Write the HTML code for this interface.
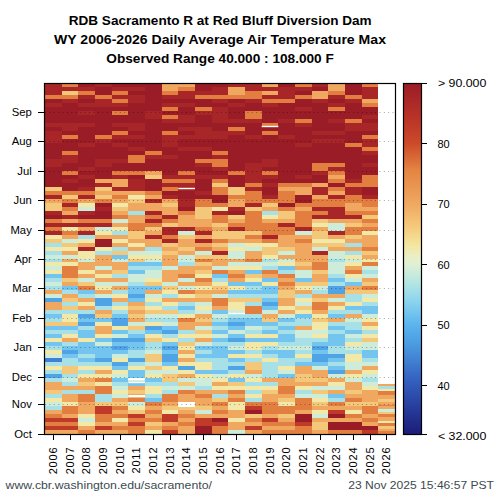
<!DOCTYPE html>
<html><head><meta charset="utf-8"><style>
html,body{margin:0;padding:0;background:#fff;}
body{width:500px;height:500px;overflow:hidden;position:relative;}
svg{position:absolute;left:0;top:0;}
text{font-family:"Liberation Sans",sans-serif;}
.ttl{font-size:13px;font-weight:bold;fill:#000;}
.tk,.yr,.cb{font-size:10px;fill:#000;}
.ft{font-size:11px;fill:#3c4a50;}
</style></head><body>
<svg width="500" height="500" viewBox="0 0 500 500" shape-rendering="crispEdges">
<rect x="45.00" y="83.00" width="16.67" height="11.97" fill="#a82627"/>
<rect x="45.00" y="94.97" width="16.67" height="3.99" fill="#e27f40"/>
<rect x="45.00" y="98.95" width="16.67" height="3.99" fill="#9a1c26"/>
<rect x="45.00" y="102.94" width="16.67" height="3.99" fill="#a82627"/>
<rect x="45.00" y="106.93" width="16.67" height="15.95" fill="#9a1c26"/>
<rect x="45.00" y="122.89" width="16.67" height="3.99" fill="#a82627"/>
<rect x="45.00" y="126.88" width="16.67" height="3.99" fill="#9a1c26"/>
<rect x="45.00" y="130.86" width="16.67" height="11.97" fill="#a82627"/>
<rect x="45.00" y="142.83" width="16.67" height="15.95" fill="#9a1c26"/>
<rect x="45.00" y="158.78" width="16.67" height="7.98" fill="#a82627"/>
<rect x="45.00" y="166.76" width="16.67" height="19.94" fill="#9a1c26"/>
<rect x="45.00" y="186.70" width="16.67" height="3.99" fill="#f4c87a"/>
<rect x="45.00" y="190.69" width="16.67" height="3.99" fill="#e27f40"/>
<rect x="45.00" y="194.68" width="16.67" height="3.99" fill="#a82627"/>
<rect x="45.00" y="198.67" width="16.67" height="3.99" fill="#f0a860"/>
<rect x="45.00" y="202.66" width="16.67" height="7.98" fill="#f4c87a"/>
<rect x="45.00" y="210.64" width="16.67" height="3.99" fill="#a82627"/>
<rect x="45.00" y="214.62" width="16.67" height="3.99" fill="#9a1c26"/>
<rect x="45.00" y="218.61" width="16.67" height="3.99" fill="#e27f40"/>
<rect x="45.00" y="222.60" width="16.67" height="3.99" fill="#a82627"/>
<rect x="45.00" y="226.59" width="16.67" height="3.99" fill="#e27f40"/>
<rect x="45.00" y="230.58" width="16.67" height="3.99" fill="#a82627"/>
<rect x="45.00" y="234.57" width="16.67" height="3.99" fill="#f2e8a8"/>
<rect x="45.00" y="238.56" width="16.67" height="3.99" fill="#f4c87a"/>
<rect x="45.00" y="242.55" width="16.67" height="3.99" fill="#a7e0e6"/>
<rect x="45.00" y="246.53" width="16.67" height="3.99" fill="#f2e8a8"/>
<rect x="45.00" y="250.52" width="16.67" height="3.99" fill="#a7e0e6"/>
<rect x="45.00" y="254.51" width="16.67" height="3.99" fill="#ceecda"/>
<rect x="45.00" y="258.50" width="16.67" height="3.99" fill="#a7e0e6"/>
<rect x="45.00" y="262.49" width="16.67" height="3.99" fill="#f2e8a8"/>
<rect x="45.00" y="266.48" width="16.67" height="3.99" fill="#ceecda"/>
<rect x="45.00" y="270.47" width="16.67" height="3.99" fill="#f2e8a8"/>
<rect x="45.00" y="274.45" width="16.67" height="3.99" fill="#73c4ee"/>
<rect x="45.00" y="278.44" width="16.67" height="3.99" fill="#a7e0e6"/>
<rect x="45.00" y="282.43" width="16.67" height="3.99" fill="#ceecda"/>
<rect x="45.00" y="286.42" width="16.67" height="3.99" fill="#a7e0e6"/>
<rect x="45.00" y="290.41" width="16.67" height="3.99" fill="#f0a860"/>
<rect x="45.00" y="294.40" width="16.67" height="3.99" fill="#ceecda"/>
<rect x="45.00" y="298.39" width="16.67" height="3.99" fill="#50a4e6"/>
<rect x="45.00" y="302.38" width="16.67" height="7.98" fill="#f0a860"/>
<rect x="45.00" y="310.35" width="16.67" height="3.99" fill="#a7e0e6"/>
<rect x="45.00" y="314.34" width="16.67" height="3.99" fill="#73c4ee"/>
<rect x="45.00" y="318.33" width="16.67" height="3.99" fill="#a7e0e6"/>
<rect x="45.00" y="322.32" width="16.67" height="3.99" fill="#f4c87a"/>
<rect x="45.00" y="326.31" width="16.67" height="3.99" fill="#73c4ee"/>
<rect x="45.00" y="330.30" width="16.67" height="3.99" fill="#a7e0e6"/>
<rect x="45.00" y="334.28" width="16.67" height="3.99" fill="#73c4ee"/>
<rect x="45.00" y="338.27" width="16.67" height="3.99" fill="#f2e8a8"/>
<rect x="45.00" y="342.26" width="16.67" height="3.99" fill="#73c4ee"/>
<rect x="45.00" y="346.25" width="16.67" height="3.99" fill="#a7e0e6"/>
<rect x="45.00" y="350.24" width="16.67" height="3.99" fill="#f2e8a8"/>
<rect x="45.00" y="354.23" width="16.67" height="3.99" fill="#ceecda"/>
<rect x="45.00" y="358.22" width="16.67" height="3.99" fill="#407fd1"/>
<rect x="45.00" y="362.20" width="16.67" height="3.99" fill="#a7e0e6"/>
<rect x="45.00" y="366.19" width="16.67" height="3.99" fill="#f2e8a8"/>
<rect x="45.00" y="370.18" width="16.67" height="3.99" fill="#a7e0e6"/>
<rect x="45.00" y="374.17" width="16.67" height="3.99" fill="#50a4e6"/>
<rect x="45.00" y="378.16" width="16.67" height="3.99" fill="#a7e0e6"/>
<rect x="45.00" y="382.15" width="16.67" height="7.98" fill="#f0a860"/>
<rect x="45.00" y="390.12" width="16.67" height="3.99" fill="#f4c87a"/>
<rect x="45.00" y="394.11" width="16.67" height="3.99" fill="#a7e0e6"/>
<rect x="45.00" y="398.10" width="16.67" height="3.99" fill="#f2e8a8"/>
<rect x="45.00" y="402.09" width="16.67" height="3.99" fill="#ceecda"/>
<rect x="45.00" y="406.08" width="16.67" height="3.99" fill="#a7e0e6"/>
<rect x="45.00" y="410.07" width="16.67" height="3.99" fill="#f0a860"/>
<rect x="45.00" y="414.06" width="16.67" height="3.99" fill="#e27f40"/>
<rect x="45.00" y="418.05" width="16.67" height="3.99" fill="#bf3a29"/>
<rect x="45.00" y="422.03" width="16.67" height="3.99" fill="#e27f40"/>
<rect x="45.00" y="426.02" width="16.67" height="3.99" fill="#bf3a29"/>
<rect x="45.00" y="430.01" width="16.67" height="3.99" fill="#f0a860"/>
<rect x="61.67" y="83.00" width="16.67" height="3.99" fill="#e27f40"/>
<rect x="61.67" y="86.99" width="16.67" height="3.99" fill="#a82627"/>
<rect x="61.67" y="90.98" width="16.67" height="3.99" fill="#f4c87a"/>
<rect x="61.67" y="94.97" width="16.67" height="3.99" fill="#e27f40"/>
<rect x="61.67" y="98.95" width="16.67" height="3.99" fill="#a82627"/>
<rect x="61.67" y="102.94" width="16.67" height="19.94" fill="#9a1c26"/>
<rect x="61.67" y="122.89" width="16.67" height="7.98" fill="#a82627"/>
<rect x="61.67" y="130.86" width="16.67" height="3.99" fill="#9a1c26"/>
<rect x="61.67" y="134.85" width="16.67" height="3.99" fill="#e27f40"/>
<rect x="61.67" y="138.84" width="16.67" height="11.97" fill="#9a1c26"/>
<rect x="61.67" y="150.81" width="16.67" height="3.99" fill="#e27f40"/>
<rect x="61.67" y="154.80" width="16.67" height="7.98" fill="#a82627"/>
<rect x="61.67" y="162.77" width="16.67" height="7.98" fill="#9a1c26"/>
<rect x="61.67" y="170.75" width="16.67" height="3.99" fill="#e27f40"/>
<rect x="61.67" y="174.74" width="16.67" height="3.99" fill="#9a1c26"/>
<rect x="61.67" y="178.73" width="16.67" height="3.99" fill="#a82627"/>
<rect x="61.67" y="182.72" width="16.67" height="7.98" fill="#9a1c26"/>
<rect x="61.67" y="190.69" width="16.67" height="3.99" fill="#e27f40"/>
<rect x="61.67" y="194.68" width="16.67" height="3.99" fill="#f4c87a"/>
<rect x="61.67" y="198.67" width="16.67" height="3.99" fill="#e27f40"/>
<rect x="61.67" y="202.66" width="16.67" height="3.99" fill="#a82627"/>
<rect x="61.67" y="206.65" width="16.67" height="3.99" fill="#e27f40"/>
<rect x="61.67" y="210.64" width="16.67" height="3.99" fill="#f0a860"/>
<rect x="61.67" y="214.62" width="16.67" height="3.99" fill="#a82627"/>
<rect x="61.67" y="218.61" width="16.67" height="3.99" fill="#f0a860"/>
<rect x="61.67" y="222.60" width="16.67" height="3.99" fill="#a82627"/>
<rect x="61.67" y="226.59" width="16.67" height="3.99" fill="#f2e8a8"/>
<rect x="61.67" y="230.58" width="16.67" height="3.99" fill="#e27f40"/>
<rect x="61.67" y="234.57" width="16.67" height="3.99" fill="#f0a860"/>
<rect x="61.67" y="238.56" width="16.67" height="3.99" fill="#ceecda"/>
<rect x="61.67" y="242.55" width="16.67" height="3.99" fill="#f4c87a"/>
<rect x="61.67" y="246.53" width="16.67" height="3.99" fill="#f2e8a8"/>
<rect x="61.67" y="250.52" width="16.67" height="3.99" fill="#f0a860"/>
<rect x="61.67" y="254.51" width="16.67" height="3.99" fill="#ceecda"/>
<rect x="61.67" y="258.50" width="16.67" height="3.99" fill="#f0a860"/>
<rect x="61.67" y="262.49" width="16.67" height="3.99" fill="#f2e8a8"/>
<rect x="61.67" y="266.48" width="16.67" height="11.97" fill="#e27f40"/>
<rect x="61.67" y="278.44" width="16.67" height="3.99" fill="#f4c87a"/>
<rect x="61.67" y="282.43" width="16.67" height="3.99" fill="#f0a860"/>
<rect x="61.67" y="286.42" width="16.67" height="3.99" fill="#73c4ee"/>
<rect x="61.67" y="290.41" width="16.67" height="3.99" fill="#a7e0e6"/>
<rect x="61.67" y="294.40" width="16.67" height="3.99" fill="#f0a860"/>
<rect x="61.67" y="298.39" width="16.67" height="3.99" fill="#f4c87a"/>
<rect x="61.67" y="302.38" width="16.67" height="3.99" fill="#a7e0e6"/>
<rect x="61.67" y="306.36" width="16.67" height="3.99" fill="#f4c87a"/>
<rect x="61.67" y="310.35" width="16.67" height="3.99" fill="#a7e0e6"/>
<rect x="61.67" y="314.34" width="16.67" height="7.98" fill="#f2e8a8"/>
<rect x="61.67" y="322.32" width="16.67" height="3.99" fill="#f4c87a"/>
<rect x="61.67" y="326.31" width="16.67" height="3.99" fill="#73c4ee"/>
<rect x="61.67" y="330.30" width="16.67" height="3.99" fill="#a7e0e6"/>
<rect x="61.67" y="334.28" width="16.67" height="3.99" fill="#f2e8a8"/>
<rect x="61.67" y="338.27" width="16.67" height="3.99" fill="#f0a860"/>
<rect x="61.67" y="342.26" width="16.67" height="3.99" fill="#a7e0e6"/>
<rect x="61.67" y="346.25" width="16.67" height="3.99" fill="#73c4ee"/>
<rect x="61.67" y="350.24" width="16.67" height="3.99" fill="#50a4e6"/>
<rect x="61.67" y="354.23" width="16.67" height="3.99" fill="#73c4ee"/>
<rect x="61.67" y="358.22" width="16.67" height="7.98" fill="#a7e0e6"/>
<rect x="61.67" y="366.19" width="16.67" height="7.98" fill="#f4c87a"/>
<rect x="61.67" y="374.17" width="16.67" height="3.99" fill="#a7e0e6"/>
<rect x="61.67" y="378.16" width="16.67" height="3.99" fill="#ceecda"/>
<rect x="61.67" y="382.15" width="16.67" height="3.99" fill="#a7e0e6"/>
<rect x="61.67" y="386.14" width="16.67" height="3.99" fill="#f0a860"/>
<rect x="61.67" y="390.12" width="16.67" height="3.99" fill="#a7e0e6"/>
<rect x="61.67" y="394.11" width="16.67" height="7.98" fill="#f0a860"/>
<rect x="61.67" y="402.09" width="16.67" height="3.99" fill="#f2e8a8"/>
<rect x="61.67" y="406.08" width="16.67" height="7.98" fill="#e27f40"/>
<rect x="61.67" y="414.06" width="16.67" height="3.99" fill="#f0a860"/>
<rect x="61.67" y="418.05" width="16.67" height="3.99" fill="#bf3a29"/>
<rect x="61.67" y="422.03" width="16.67" height="3.99" fill="#e27f40"/>
<rect x="61.67" y="426.02" width="16.67" height="3.99" fill="#bf3a29"/>
<rect x="61.67" y="430.01" width="16.67" height="3.99" fill="#f0a860"/>
<rect x="78.33" y="83.00" width="16.67" height="3.99" fill="#9a1c26"/>
<rect x="78.33" y="86.99" width="16.67" height="3.99" fill="#a82627"/>
<rect x="78.33" y="90.98" width="16.67" height="3.99" fill="#e27f40"/>
<rect x="78.33" y="94.97" width="16.67" height="3.99" fill="#a82627"/>
<rect x="78.33" y="98.95" width="16.67" height="3.99" fill="#9a1c26"/>
<rect x="78.33" y="102.94" width="16.67" height="3.99" fill="#a82627"/>
<rect x="78.33" y="106.93" width="16.67" height="3.99" fill="#9a1c26"/>
<rect x="78.33" y="110.92" width="16.67" height="3.99" fill="#a82627"/>
<rect x="78.33" y="114.91" width="16.67" height="7.98" fill="#9a1c26"/>
<rect x="78.33" y="122.89" width="16.67" height="3.99" fill="#a82627"/>
<rect x="78.33" y="126.88" width="16.67" height="15.95" fill="#9a1c26"/>
<rect x="78.33" y="142.83" width="16.67" height="3.99" fill="#a82627"/>
<rect x="78.33" y="146.82" width="16.67" height="19.94" fill="#9a1c26"/>
<rect x="78.33" y="166.76" width="16.67" height="3.99" fill="#a82627"/>
<rect x="78.33" y="170.75" width="16.67" height="3.99" fill="#9a1c26"/>
<rect x="78.33" y="174.74" width="16.67" height="3.99" fill="#a82627"/>
<rect x="78.33" y="178.73" width="16.67" height="7.98" fill="#9a1c26"/>
<rect x="78.33" y="186.70" width="16.67" height="3.99" fill="#a82627"/>
<rect x="78.33" y="190.69" width="16.67" height="3.99" fill="#e27f40"/>
<rect x="78.33" y="194.68" width="16.67" height="3.99" fill="#a82627"/>
<rect x="78.33" y="198.67" width="16.67" height="3.99" fill="#f0a860"/>
<rect x="78.33" y="202.66" width="16.67" height="3.99" fill="#f2e8a8"/>
<rect x="78.33" y="206.65" width="16.67" height="3.99" fill="#ceecda"/>
<rect x="78.33" y="210.64" width="16.67" height="3.99" fill="#a82627"/>
<rect x="78.33" y="214.62" width="16.67" height="3.99" fill="#9a1c26"/>
<rect x="78.33" y="218.61" width="16.67" height="3.99" fill="#e27f40"/>
<rect x="78.33" y="222.60" width="16.67" height="3.99" fill="#a82627"/>
<rect x="78.33" y="226.59" width="16.67" height="3.99" fill="#f0a860"/>
<rect x="78.33" y="230.58" width="16.67" height="3.99" fill="#a82627"/>
<rect x="78.33" y="234.57" width="16.67" height="3.99" fill="#a7e0e6"/>
<rect x="78.33" y="238.56" width="16.67" height="3.99" fill="#f2e8a8"/>
<rect x="78.33" y="242.55" width="16.67" height="3.99" fill="#f0a860"/>
<rect x="78.33" y="246.53" width="16.67" height="3.99" fill="#a82627"/>
<rect x="78.33" y="250.52" width="16.67" height="7.98" fill="#f2e8a8"/>
<rect x="78.33" y="258.50" width="16.67" height="3.99" fill="#ceecda"/>
<rect x="78.33" y="262.49" width="16.67" height="7.98" fill="#f0a860"/>
<rect x="78.33" y="270.47" width="16.67" height="3.99" fill="#f2e8a8"/>
<rect x="78.33" y="274.45" width="16.67" height="3.99" fill="#f0a860"/>
<rect x="78.33" y="278.44" width="16.67" height="3.99" fill="#ceecda"/>
<rect x="78.33" y="282.43" width="16.67" height="3.99" fill="#f4c87a"/>
<rect x="78.33" y="286.42" width="16.67" height="3.99" fill="#e27f40"/>
<rect x="78.33" y="290.41" width="16.67" height="3.99" fill="#73c4ee"/>
<rect x="78.33" y="294.40" width="16.67" height="3.99" fill="#a7e0e6"/>
<rect x="78.33" y="298.39" width="16.67" height="3.99" fill="#f0a860"/>
<rect x="78.33" y="302.38" width="16.67" height="3.99" fill="#f2e8a8"/>
<rect x="78.33" y="306.36" width="16.67" height="3.99" fill="#f0a860"/>
<rect x="78.33" y="310.35" width="16.67" height="3.99" fill="#a7e0e6"/>
<rect x="78.33" y="314.34" width="16.67" height="3.99" fill="#50a4e6"/>
<rect x="78.33" y="318.33" width="16.67" height="3.99" fill="#73c4ee"/>
<rect x="78.33" y="322.32" width="16.67" height="3.99" fill="#50a4e6"/>
<rect x="78.33" y="326.31" width="16.67" height="3.99" fill="#a7e0e6"/>
<rect x="78.33" y="330.30" width="16.67" height="7.98" fill="#73c4ee"/>
<rect x="78.33" y="338.27" width="16.67" height="3.99" fill="#f2e8a8"/>
<rect x="78.33" y="342.26" width="16.67" height="11.97" fill="#73c4ee"/>
<rect x="78.33" y="354.23" width="16.67" height="3.99" fill="#a7e0e6"/>
<rect x="78.33" y="358.22" width="16.67" height="3.99" fill="#73c4ee"/>
<rect x="78.33" y="362.20" width="16.67" height="3.99" fill="#a7e0e6"/>
<rect x="78.33" y="366.19" width="16.67" height="3.99" fill="#f2e8a8"/>
<rect x="78.33" y="370.18" width="16.67" height="3.99" fill="#a7e0e6"/>
<rect x="78.33" y="374.17" width="16.67" height="3.99" fill="#f2e8a8"/>
<rect x="78.33" y="378.16" width="16.67" height="3.99" fill="#f0a860"/>
<rect x="78.33" y="382.15" width="16.67" height="3.99" fill="#f4c87a"/>
<rect x="78.33" y="386.14" width="16.67" height="3.99" fill="#f0a860"/>
<rect x="78.33" y="390.12" width="16.67" height="3.99" fill="#a7e0e6"/>
<rect x="78.33" y="394.11" width="16.67" height="7.98" fill="#e27f40"/>
<rect x="78.33" y="402.09" width="16.67" height="11.97" fill="#f0a860"/>
<rect x="78.33" y="414.06" width="16.67" height="3.99" fill="#f2e8a8"/>
<rect x="78.33" y="418.05" width="16.67" height="3.99" fill="#ceecda"/>
<rect x="78.33" y="422.03" width="16.67" height="3.99" fill="#f2e8a8"/>
<rect x="78.33" y="426.02" width="16.67" height="3.99" fill="#f0a860"/>
<rect x="78.33" y="430.01" width="16.67" height="3.99" fill="#e27f40"/>
<rect x="95.00" y="83.00" width="16.67" height="3.99" fill="#a82627"/>
<rect x="95.00" y="86.99" width="16.67" height="7.98" fill="#9a1c26"/>
<rect x="95.00" y="94.97" width="16.67" height="3.99" fill="#e27f40"/>
<rect x="95.00" y="98.95" width="16.67" height="7.98" fill="#a82627"/>
<rect x="95.00" y="106.93" width="16.67" height="27.92" fill="#9a1c26"/>
<rect x="95.00" y="134.85" width="16.67" height="3.99" fill="#e27f40"/>
<rect x="95.00" y="138.84" width="16.67" height="3.99" fill="#a82627"/>
<rect x="95.00" y="142.83" width="16.67" height="15.95" fill="#9a1c26"/>
<rect x="95.00" y="158.78" width="16.67" height="7.98" fill="#a82627"/>
<rect x="95.00" y="166.76" width="16.67" height="11.97" fill="#9a1c26"/>
<rect x="95.00" y="178.73" width="16.67" height="3.99" fill="#f0a860"/>
<rect x="95.00" y="182.72" width="16.67" height="3.99" fill="#a82627"/>
<rect x="95.00" y="186.70" width="16.67" height="3.99" fill="#f4c87a"/>
<rect x="95.00" y="190.69" width="16.67" height="3.99" fill="#f0a860"/>
<rect x="95.00" y="194.68" width="16.67" height="3.99" fill="#f4c87a"/>
<rect x="95.00" y="198.67" width="16.67" height="3.99" fill="#e27f40"/>
<rect x="95.00" y="202.66" width="16.67" height="3.99" fill="#9a1c26"/>
<rect x="95.00" y="206.65" width="16.67" height="3.99" fill="#a82627"/>
<rect x="95.00" y="210.64" width="16.67" height="7.98" fill="#9a1c26"/>
<rect x="95.00" y="218.61" width="16.67" height="3.99" fill="#e27f40"/>
<rect x="95.00" y="222.60" width="16.67" height="3.99" fill="#a82627"/>
<rect x="95.00" y="226.59" width="16.67" height="3.99" fill="#ceecda"/>
<rect x="95.00" y="230.58" width="16.67" height="3.99" fill="#f2e8a8"/>
<rect x="95.00" y="234.57" width="16.67" height="3.99" fill="#f0a860"/>
<rect x="95.00" y="238.56" width="16.67" height="7.98" fill="#9a1c26"/>
<rect x="95.00" y="246.53" width="16.67" height="3.99" fill="#f2e8a8"/>
<rect x="95.00" y="250.52" width="16.67" height="3.99" fill="#a7e0e6"/>
<rect x="95.00" y="254.51" width="16.67" height="11.97" fill="#f0a860"/>
<rect x="95.00" y="266.48" width="16.67" height="3.99" fill="#ceecda"/>
<rect x="95.00" y="270.47" width="16.67" height="3.99" fill="#f0a860"/>
<rect x="95.00" y="274.45" width="16.67" height="3.99" fill="#f2e8a8"/>
<rect x="95.00" y="278.44" width="16.67" height="3.99" fill="#f0a860"/>
<rect x="95.00" y="282.43" width="16.67" height="3.99" fill="#ceecda"/>
<rect x="95.00" y="286.42" width="16.67" height="3.99" fill="#f2e8a8"/>
<rect x="95.00" y="290.41" width="16.67" height="3.99" fill="#f0a860"/>
<rect x="95.00" y="294.40" width="16.67" height="3.99" fill="#ceecda"/>
<rect x="95.00" y="298.39" width="16.67" height="7.98" fill="#50a4e6"/>
<rect x="95.00" y="306.36" width="16.67" height="3.99" fill="#a7e0e6"/>
<rect x="95.00" y="310.35" width="16.67" height="3.99" fill="#f0a860"/>
<rect x="95.00" y="314.34" width="16.67" height="3.99" fill="#f4c87a"/>
<rect x="95.00" y="318.33" width="16.67" height="3.99" fill="#73c4ee"/>
<rect x="95.00" y="322.32" width="16.67" height="3.99" fill="#f2e8a8"/>
<rect x="95.00" y="326.31" width="16.67" height="7.98" fill="#f0a860"/>
<rect x="95.00" y="334.28" width="16.67" height="3.99" fill="#f2e8a8"/>
<rect x="95.00" y="338.27" width="16.67" height="3.99" fill="#73c4ee"/>
<rect x="95.00" y="342.26" width="16.67" height="3.99" fill="#ceecda"/>
<rect x="95.00" y="346.25" width="16.67" height="11.97" fill="#73c4ee"/>
<rect x="95.00" y="358.22" width="16.67" height="3.99" fill="#50a4e6"/>
<rect x="95.00" y="362.20" width="16.67" height="3.99" fill="#a7e0e6"/>
<rect x="95.00" y="366.19" width="16.67" height="3.99" fill="#f2e8a8"/>
<rect x="95.00" y="370.18" width="16.67" height="3.99" fill="#f0a860"/>
<rect x="95.00" y="374.17" width="16.67" height="3.99" fill="#f2e8a8"/>
<rect x="95.00" y="378.16" width="16.67" height="3.99" fill="#e27f40"/>
<rect x="95.00" y="382.15" width="16.67" height="3.99" fill="#f2e8a8"/>
<rect x="95.00" y="386.14" width="16.67" height="7.98" fill="#e27f40"/>
<rect x="95.00" y="394.11" width="16.67" height="7.98" fill="#a7e0e6"/>
<rect x="95.00" y="402.09" width="16.67" height="3.99" fill="#f4c87a"/>
<rect x="95.00" y="406.08" width="16.67" height="7.98" fill="#bf3a29"/>
<rect x="95.00" y="414.06" width="16.67" height="7.98" fill="#e27f40"/>
<rect x="95.00" y="422.03" width="16.67" height="3.99" fill="#f0a860"/>
<rect x="95.00" y="426.02" width="16.67" height="3.99" fill="#bf3a29"/>
<rect x="95.00" y="430.01" width="16.67" height="3.99" fill="#f0a860"/>
<rect x="111.67" y="83.00" width="16.67" height="3.99" fill="#9a1c26"/>
<rect x="111.67" y="86.99" width="16.67" height="3.99" fill="#a82627"/>
<rect x="111.67" y="90.98" width="16.67" height="3.99" fill="#e27f40"/>
<rect x="111.67" y="94.97" width="16.67" height="3.99" fill="#a82627"/>
<rect x="111.67" y="98.95" width="16.67" height="3.99" fill="#e27f40"/>
<rect x="111.67" y="102.94" width="16.67" height="3.99" fill="#a82627"/>
<rect x="111.67" y="106.93" width="16.67" height="3.99" fill="#9a1c26"/>
<rect x="111.67" y="110.92" width="16.67" height="3.99" fill="#e27f40"/>
<rect x="111.67" y="114.91" width="16.67" height="7.98" fill="#9a1c26"/>
<rect x="111.67" y="122.89" width="16.67" height="3.99" fill="#a82627"/>
<rect x="111.67" y="126.88" width="16.67" height="3.99" fill="#9a1c26"/>
<rect x="111.67" y="130.86" width="16.67" height="3.99" fill="#e27f40"/>
<rect x="111.67" y="134.85" width="16.67" height="3.99" fill="#a82627"/>
<rect x="111.67" y="138.84" width="16.67" height="3.99" fill="#9a1c26"/>
<rect x="111.67" y="142.83" width="16.67" height="3.99" fill="#a82627"/>
<rect x="111.67" y="146.82" width="16.67" height="11.97" fill="#9a1c26"/>
<rect x="111.67" y="158.78" width="16.67" height="3.99" fill="#a82627"/>
<rect x="111.67" y="162.77" width="16.67" height="7.98" fill="#9a1c26"/>
<rect x="111.67" y="170.75" width="16.67" height="3.99" fill="#e27f40"/>
<rect x="111.67" y="174.74" width="16.67" height="3.99" fill="#a82627"/>
<rect x="111.67" y="178.73" width="16.67" height="7.98" fill="#f0a860"/>
<rect x="111.67" y="186.70" width="16.67" height="3.99" fill="#a82627"/>
<rect x="111.67" y="190.69" width="16.67" height="3.99" fill="#f0a860"/>
<rect x="111.67" y="194.68" width="16.67" height="3.99" fill="#e27f40"/>
<rect x="111.67" y="198.67" width="16.67" height="3.99" fill="#f0a860"/>
<rect x="111.67" y="202.66" width="16.67" height="3.99" fill="#f2e8a8"/>
<rect x="111.67" y="206.65" width="16.67" height="3.99" fill="#f4c87a"/>
<rect x="111.67" y="210.64" width="16.67" height="3.99" fill="#f0a860"/>
<rect x="111.67" y="214.62" width="16.67" height="3.99" fill="#e27f40"/>
<rect x="111.67" y="218.61" width="16.67" height="3.99" fill="#ceecda"/>
<rect x="111.67" y="222.60" width="16.67" height="3.99" fill="#f0a860"/>
<rect x="111.67" y="226.59" width="16.67" height="3.99" fill="#f2e8a8"/>
<rect x="111.67" y="230.58" width="16.67" height="3.99" fill="#a7e0e6"/>
<rect x="111.67" y="234.57" width="16.67" height="3.99" fill="#f0a860"/>
<rect x="111.67" y="238.56" width="16.67" height="3.99" fill="#f2e8a8"/>
<rect x="111.67" y="242.55" width="16.67" height="3.99" fill="#f0a860"/>
<rect x="111.67" y="246.53" width="16.67" height="3.99" fill="#a7e0e6"/>
<rect x="111.67" y="250.52" width="16.67" height="3.99" fill="#f4c87a"/>
<rect x="111.67" y="254.51" width="16.67" height="3.99" fill="#73c4ee"/>
<rect x="111.67" y="258.50" width="16.67" height="3.99" fill="#ceecda"/>
<rect x="111.67" y="262.49" width="16.67" height="7.98" fill="#f0a860"/>
<rect x="111.67" y="270.47" width="16.67" height="3.99" fill="#f4c87a"/>
<rect x="111.67" y="274.45" width="16.67" height="3.99" fill="#a7e0e6"/>
<rect x="111.67" y="278.44" width="16.67" height="3.99" fill="#f0a860"/>
<rect x="111.67" y="282.43" width="16.67" height="3.99" fill="#ceecda"/>
<rect x="111.67" y="286.42" width="16.67" height="3.99" fill="#f0a860"/>
<rect x="111.67" y="290.41" width="16.67" height="3.99" fill="#a7e0e6"/>
<rect x="111.67" y="294.40" width="16.67" height="3.99" fill="#f2e8a8"/>
<rect x="111.67" y="298.39" width="16.67" height="3.99" fill="#f0a860"/>
<rect x="111.67" y="302.38" width="16.67" height="3.99" fill="#a7e0e6"/>
<rect x="111.67" y="306.36" width="16.67" height="3.99" fill="#f2e8a8"/>
<rect x="111.67" y="310.35" width="16.67" height="3.99" fill="#a7e0e6"/>
<rect x="111.67" y="314.34" width="16.67" height="3.99" fill="#73c4ee"/>
<rect x="111.67" y="318.33" width="16.67" height="7.98" fill="#50a4e6"/>
<rect x="111.67" y="326.31" width="16.67" height="3.99" fill="#f2e8a8"/>
<rect x="111.67" y="330.30" width="16.67" height="3.99" fill="#73c4ee"/>
<rect x="111.67" y="334.28" width="16.67" height="3.99" fill="#ceecda"/>
<rect x="111.67" y="338.27" width="16.67" height="3.99" fill="#50a4e6"/>
<rect x="111.67" y="342.26" width="16.67" height="3.99" fill="#73c4ee"/>
<rect x="111.67" y="346.25" width="16.67" height="3.99" fill="#50a4e6"/>
<rect x="111.67" y="350.24" width="16.67" height="3.99" fill="#73c4ee"/>
<rect x="111.67" y="354.23" width="16.67" height="3.99" fill="#ceecda"/>
<rect x="111.67" y="358.22" width="16.67" height="3.99" fill="#f2e8a8"/>
<rect x="111.67" y="362.20" width="16.67" height="3.99" fill="#50a4e6"/>
<rect x="111.67" y="366.19" width="16.67" height="3.99" fill="#73c4ee"/>
<rect x="111.67" y="370.18" width="16.67" height="3.99" fill="#f2e8a8"/>
<rect x="111.67" y="374.17" width="16.67" height="3.99" fill="#ceecda"/>
<rect x="111.67" y="378.16" width="16.67" height="3.99" fill="#73c4ee"/>
<rect x="111.67" y="382.15" width="16.67" height="3.99" fill="#a7e0e6"/>
<rect x="111.67" y="386.14" width="16.67" height="3.99" fill="#ceecda"/>
<rect x="111.67" y="390.12" width="16.67" height="3.99" fill="#f2e8a8"/>
<rect x="111.67" y="394.11" width="16.67" height="3.99" fill="#ceecda"/>
<rect x="111.67" y="398.10" width="16.67" height="3.99" fill="#f0a860"/>
<rect x="111.67" y="402.09" width="16.67" height="3.99" fill="#f4c87a"/>
<rect x="111.67" y="406.08" width="16.67" height="3.99" fill="#e27f40"/>
<rect x="111.67" y="410.07" width="16.67" height="3.99" fill="#f0a860"/>
<rect x="111.67" y="414.06" width="16.67" height="3.99" fill="#e27f40"/>
<rect x="111.67" y="418.05" width="16.67" height="3.99" fill="#f2e8a8"/>
<rect x="111.67" y="422.03" width="16.67" height="3.99" fill="#f0a860"/>
<rect x="111.67" y="426.02" width="16.67" height="3.99" fill="#e27f40"/>
<rect x="111.67" y="430.01" width="16.67" height="3.99" fill="#f0a860"/>
<rect x="128.33" y="83.00" width="16.67" height="3.99" fill="#9a1c26"/>
<rect x="128.33" y="86.99" width="16.67" height="3.99" fill="#a82627"/>
<rect x="128.33" y="90.98" width="16.67" height="3.99" fill="#9a1c26"/>
<rect x="128.33" y="94.97" width="16.67" height="7.98" fill="#a82627"/>
<rect x="128.33" y="102.94" width="16.67" height="19.94" fill="#9a1c26"/>
<rect x="128.33" y="122.89" width="16.67" height="7.98" fill="#a82627"/>
<rect x="128.33" y="130.86" width="16.67" height="3.99" fill="#9a1c26"/>
<rect x="128.33" y="134.85" width="16.67" height="3.99" fill="#a82627"/>
<rect x="128.33" y="138.84" width="16.67" height="7.98" fill="#9a1c26"/>
<rect x="128.33" y="146.82" width="16.67" height="3.99" fill="#a82627"/>
<rect x="128.33" y="150.81" width="16.67" height="3.99" fill="#9a1c26"/>
<rect x="128.33" y="154.80" width="16.67" height="7.98" fill="#e27f40"/>
<rect x="128.33" y="162.77" width="16.67" height="7.98" fill="#9a1c26"/>
<rect x="128.33" y="170.75" width="16.67" height="3.99" fill="#e27f40"/>
<rect x="128.33" y="174.74" width="16.67" height="3.99" fill="#9a1c26"/>
<rect x="128.33" y="178.73" width="16.67" height="11.97" fill="#a82627"/>
<rect x="128.33" y="190.69" width="16.67" height="3.99" fill="#f0a860"/>
<rect x="128.33" y="194.68" width="16.67" height="3.99" fill="#f2e8a8"/>
<rect x="128.33" y="198.67" width="16.67" height="3.99" fill="#f4c87a"/>
<rect x="128.33" y="202.66" width="16.67" height="7.98" fill="#f0a860"/>
<rect x="128.33" y="210.64" width="16.67" height="3.99" fill="#a7e0e6"/>
<rect x="128.33" y="214.62" width="16.67" height="7.98" fill="#f0a860"/>
<rect x="128.33" y="222.60" width="16.67" height="7.98" fill="#e27f40"/>
<rect x="128.33" y="230.58" width="16.67" height="7.98" fill="#f4c87a"/>
<rect x="128.33" y="238.56" width="16.67" height="3.99" fill="#f0a860"/>
<rect x="128.33" y="242.55" width="16.67" height="3.99" fill="#f2e8a8"/>
<rect x="128.33" y="246.53" width="16.67" height="3.99" fill="#f0a860"/>
<rect x="128.33" y="250.52" width="16.67" height="3.99" fill="#ceecda"/>
<rect x="128.33" y="254.51" width="16.67" height="3.99" fill="#f2e8a8"/>
<rect x="128.33" y="258.50" width="16.67" height="3.99" fill="#f4c87a"/>
<rect x="128.33" y="262.49" width="16.67" height="3.99" fill="#73c4ee"/>
<rect x="128.33" y="266.48" width="16.67" height="3.99" fill="#a7e0e6"/>
<rect x="128.33" y="270.47" width="16.67" height="3.99" fill="#73c4ee"/>
<rect x="128.33" y="274.45" width="16.67" height="7.98" fill="#ceecda"/>
<rect x="128.33" y="282.43" width="16.67" height="3.99" fill="#a7e0e6"/>
<rect x="128.33" y="286.42" width="16.67" height="7.98" fill="#73c4ee"/>
<rect x="128.33" y="294.40" width="16.67" height="3.99" fill="#50a4e6"/>
<rect x="128.33" y="298.39" width="16.67" height="3.99" fill="#73c4ee"/>
<rect x="128.33" y="302.38" width="16.67" height="3.99" fill="#f0a860"/>
<rect x="128.33" y="306.36" width="16.67" height="3.99" fill="#f4c87a"/>
<rect x="128.33" y="310.35" width="16.67" height="3.99" fill="#f0a860"/>
<rect x="128.33" y="314.34" width="16.67" height="3.99" fill="#f4c87a"/>
<rect x="128.33" y="318.33" width="16.67" height="3.99" fill="#f0a860"/>
<rect x="128.33" y="322.32" width="16.67" height="3.99" fill="#ceecda"/>
<rect x="128.33" y="326.31" width="16.67" height="3.99" fill="#f4c87a"/>
<rect x="128.33" y="330.30" width="16.67" height="3.99" fill="#a7e0e6"/>
<rect x="128.33" y="334.28" width="16.67" height="3.99" fill="#73c4ee"/>
<rect x="128.33" y="338.27" width="16.67" height="3.99" fill="#50a4e6"/>
<rect x="128.33" y="342.26" width="16.67" height="7.98" fill="#73c4ee"/>
<rect x="128.33" y="350.24" width="16.67" height="7.98" fill="#a7e0e6"/>
<rect x="128.33" y="358.22" width="16.67" height="3.99" fill="#50a4e6"/>
<rect x="128.33" y="362.20" width="16.67" height="3.99" fill="#a7e0e6"/>
<rect x="128.33" y="366.19" width="16.67" height="3.99" fill="#f2e8a8"/>
<rect x="128.33" y="370.18" width="16.67" height="7.98" fill="#73c4ee"/>
<rect x="128.33" y="378.16" width="16.67" height="3.99" fill="#ceecda"/>
<rect x="128.33" y="382.15" width="16.67" height="3.99" fill="#73c4ee"/>
<rect x="128.33" y="386.14" width="16.67" height="3.99" fill="#f0a860"/>
<rect x="128.33" y="390.12" width="16.67" height="3.99" fill="#f4c87a"/>
<rect x="128.33" y="394.11" width="16.67" height="3.99" fill="#f0a860"/>
<rect x="128.33" y="398.10" width="16.67" height="3.99" fill="#e27f40"/>
<rect x="128.33" y="402.09" width="16.67" height="3.99" fill="#ceecda"/>
<rect x="128.33" y="406.08" width="16.67" height="3.99" fill="#f2e8a8"/>
<rect x="128.33" y="410.07" width="16.67" height="3.99" fill="#f4c87a"/>
<rect x="128.33" y="414.06" width="16.67" height="3.99" fill="#bf3a29"/>
<rect x="128.33" y="418.05" width="16.67" height="3.99" fill="#e27f40"/>
<rect x="128.33" y="422.03" width="16.67" height="3.99" fill="#bf3a29"/>
<rect x="128.33" y="426.02" width="16.67" height="7.98" fill="#e27f40"/>
<rect x="145.00" y="83.00" width="16.67" height="27.92" fill="#9a1c26"/>
<rect x="145.00" y="110.92" width="16.67" height="7.98" fill="#a82627"/>
<rect x="145.00" y="118.90" width="16.67" height="31.91" fill="#9a1c26"/>
<rect x="145.00" y="150.81" width="16.67" height="3.99" fill="#e27f40"/>
<rect x="145.00" y="154.80" width="16.67" height="3.99" fill="#a82627"/>
<rect x="145.00" y="158.78" width="16.67" height="11.97" fill="#9a1c26"/>
<rect x="145.00" y="170.75" width="16.67" height="3.99" fill="#f0a860"/>
<rect x="145.00" y="174.74" width="16.67" height="3.99" fill="#f4c87a"/>
<rect x="145.00" y="178.73" width="16.67" height="11.97" fill="#9a1c26"/>
<rect x="145.00" y="190.69" width="16.67" height="3.99" fill="#e27f40"/>
<rect x="145.00" y="194.68" width="16.67" height="3.99" fill="#f0a860"/>
<rect x="145.00" y="198.67" width="16.67" height="3.99" fill="#a82627"/>
<rect x="145.00" y="202.66" width="16.67" height="7.98" fill="#f0a860"/>
<rect x="145.00" y="210.64" width="16.67" height="3.99" fill="#a82627"/>
<rect x="145.00" y="214.62" width="16.67" height="3.99" fill="#e27f40"/>
<rect x="145.00" y="218.61" width="16.67" height="3.99" fill="#a82627"/>
<rect x="145.00" y="222.60" width="16.67" height="3.99" fill="#e27f40"/>
<rect x="145.00" y="226.59" width="16.67" height="3.99" fill="#f4c87a"/>
<rect x="145.00" y="230.58" width="16.67" height="3.99" fill="#f0a860"/>
<rect x="145.00" y="234.57" width="16.67" height="3.99" fill="#a82627"/>
<rect x="145.00" y="238.56" width="16.67" height="7.98" fill="#f0a860"/>
<rect x="145.00" y="246.53" width="16.67" height="3.99" fill="#a7e0e6"/>
<rect x="145.00" y="250.52" width="16.67" height="3.99" fill="#ceecda"/>
<rect x="145.00" y="254.51" width="16.67" height="3.99" fill="#f2e8a8"/>
<rect x="145.00" y="258.50" width="16.67" height="3.99" fill="#ceecda"/>
<rect x="145.00" y="262.49" width="16.67" height="3.99" fill="#73c4ee"/>
<rect x="145.00" y="266.48" width="16.67" height="3.99" fill="#a7e0e6"/>
<rect x="145.00" y="270.47" width="16.67" height="7.98" fill="#ceecda"/>
<rect x="145.00" y="278.44" width="16.67" height="3.99" fill="#f2e8a8"/>
<rect x="145.00" y="282.43" width="16.67" height="3.99" fill="#f4c87a"/>
<rect x="145.00" y="286.42" width="16.67" height="3.99" fill="#73c4ee"/>
<rect x="145.00" y="290.41" width="16.67" height="3.99" fill="#f0a860"/>
<rect x="145.00" y="294.40" width="16.67" height="3.99" fill="#ceecda"/>
<rect x="145.00" y="298.39" width="16.67" height="3.99" fill="#f2e8a8"/>
<rect x="145.00" y="302.38" width="16.67" height="3.99" fill="#a7e0e6"/>
<rect x="145.00" y="306.36" width="16.67" height="3.99" fill="#f2e8a8"/>
<rect x="145.00" y="310.35" width="16.67" height="3.99" fill="#f4c87a"/>
<rect x="145.00" y="314.34" width="16.67" height="3.99" fill="#ceecda"/>
<rect x="145.00" y="318.33" width="16.67" height="3.99" fill="#a7e0e6"/>
<rect x="145.00" y="322.32" width="16.67" height="3.99" fill="#f2e8a8"/>
<rect x="145.00" y="326.31" width="16.67" height="3.99" fill="#50a4e6"/>
<rect x="145.00" y="330.30" width="16.67" height="3.99" fill="#73c4ee"/>
<rect x="145.00" y="334.28" width="16.67" height="3.99" fill="#f2e8a8"/>
<rect x="145.00" y="338.27" width="16.67" height="3.99" fill="#f4c87a"/>
<rect x="145.00" y="342.26" width="16.67" height="7.98" fill="#a7e0e6"/>
<rect x="145.00" y="350.24" width="16.67" height="3.99" fill="#ceecda"/>
<rect x="145.00" y="354.23" width="16.67" height="7.98" fill="#f4c87a"/>
<rect x="145.00" y="362.20" width="16.67" height="3.99" fill="#ceecda"/>
<rect x="145.00" y="366.19" width="16.67" height="3.99" fill="#f4c87a"/>
<rect x="145.00" y="370.18" width="16.67" height="3.99" fill="#ceecda"/>
<rect x="145.00" y="374.17" width="16.67" height="3.99" fill="#f2e8a8"/>
<rect x="145.00" y="378.16" width="16.67" height="3.99" fill="#73c4ee"/>
<rect x="145.00" y="382.15" width="16.67" height="3.99" fill="#a7e0e6"/>
<rect x="145.00" y="386.14" width="16.67" height="7.98" fill="#f2e8a8"/>
<rect x="145.00" y="394.11" width="16.67" height="3.99" fill="#a7e0e6"/>
<rect x="145.00" y="398.10" width="16.67" height="3.99" fill="#73c4ee"/>
<rect x="145.00" y="402.09" width="16.67" height="3.99" fill="#e27f40"/>
<rect x="145.00" y="406.08" width="16.67" height="3.99" fill="#f0a860"/>
<rect x="145.00" y="410.07" width="16.67" height="3.99" fill="#e27f40"/>
<rect x="145.00" y="414.06" width="16.67" height="3.99" fill="#f0a860"/>
<rect x="145.00" y="418.05" width="16.67" height="3.99" fill="#e27f40"/>
<rect x="145.00" y="422.03" width="16.67" height="3.99" fill="#f4c87a"/>
<rect x="145.00" y="426.02" width="16.67" height="3.99" fill="#f0a860"/>
<rect x="145.00" y="430.01" width="16.67" height="3.99" fill="#f2e8a8"/>
<rect x="161.67" y="83.00" width="16.67" height="7.98" fill="#f0a860"/>
<rect x="161.67" y="90.98" width="16.67" height="3.99" fill="#e27f40"/>
<rect x="161.67" y="94.97" width="16.67" height="3.99" fill="#a82627"/>
<rect x="161.67" y="98.95" width="16.67" height="3.99" fill="#9a1c26"/>
<rect x="161.67" y="102.94" width="16.67" height="3.99" fill="#a82627"/>
<rect x="161.67" y="106.93" width="16.67" height="3.99" fill="#e27f40"/>
<rect x="161.67" y="110.92" width="16.67" height="3.99" fill="#9a1c26"/>
<rect x="161.67" y="114.91" width="16.67" height="3.99" fill="#e27f40"/>
<rect x="161.67" y="118.90" width="16.67" height="3.99" fill="#a82627"/>
<rect x="161.67" y="122.89" width="16.67" height="7.98" fill="#9a1c26"/>
<rect x="161.67" y="130.86" width="16.67" height="3.99" fill="#e27f40"/>
<rect x="161.67" y="134.85" width="16.67" height="11.97" fill="#a82627"/>
<rect x="161.67" y="146.82" width="16.67" height="7.98" fill="#9a1c26"/>
<rect x="161.67" y="154.80" width="16.67" height="3.99" fill="#a82627"/>
<rect x="161.67" y="158.78" width="16.67" height="15.95" fill="#9a1c26"/>
<rect x="161.67" y="174.74" width="16.67" height="3.99" fill="#a82627"/>
<rect x="161.67" y="178.73" width="16.67" height="3.99" fill="#e27f40"/>
<rect x="161.67" y="182.72" width="16.67" height="3.99" fill="#a82627"/>
<rect x="161.67" y="186.70" width="16.67" height="3.99" fill="#e27f40"/>
<rect x="161.67" y="190.69" width="16.67" height="3.99" fill="#9a1c26"/>
<rect x="161.67" y="194.68" width="16.67" height="3.99" fill="#a82627"/>
<rect x="161.67" y="198.67" width="16.67" height="3.99" fill="#f0a860"/>
<rect x="161.67" y="202.66" width="16.67" height="3.99" fill="#f4c87a"/>
<rect x="161.67" y="206.65" width="16.67" height="7.98" fill="#f0a860"/>
<rect x="161.67" y="214.62" width="16.67" height="3.99" fill="#a82627"/>
<rect x="161.67" y="218.61" width="16.67" height="3.99" fill="#e27f40"/>
<rect x="161.67" y="222.60" width="16.67" height="3.99" fill="#f4c87a"/>
<rect x="161.67" y="226.59" width="16.67" height="7.98" fill="#a82627"/>
<rect x="161.67" y="234.57" width="16.67" height="3.99" fill="#e27f40"/>
<rect x="161.67" y="238.56" width="16.67" height="3.99" fill="#a82627"/>
<rect x="161.67" y="242.55" width="16.67" height="3.99" fill="#f4c87a"/>
<rect x="161.67" y="246.53" width="16.67" height="3.99" fill="#f0a860"/>
<rect x="161.67" y="250.52" width="16.67" height="3.99" fill="#f4c87a"/>
<rect x="161.67" y="254.51" width="16.67" height="11.97" fill="#f0a860"/>
<rect x="161.67" y="266.48" width="16.67" height="3.99" fill="#ceecda"/>
<rect x="161.67" y="270.47" width="16.67" height="11.97" fill="#f0a860"/>
<rect x="161.67" y="282.43" width="16.67" height="3.99" fill="#ceecda"/>
<rect x="161.67" y="286.42" width="16.67" height="3.99" fill="#f4c87a"/>
<rect x="161.67" y="290.41" width="16.67" height="3.99" fill="#f2e8a8"/>
<rect x="161.67" y="294.40" width="16.67" height="3.99" fill="#a7e0e6"/>
<rect x="161.67" y="298.39" width="16.67" height="3.99" fill="#f0a860"/>
<rect x="161.67" y="302.38" width="16.67" height="3.99" fill="#f2e8a8"/>
<rect x="161.67" y="306.36" width="16.67" height="3.99" fill="#a7e0e6"/>
<rect x="161.67" y="310.35" width="16.67" height="3.99" fill="#f4c87a"/>
<rect x="161.67" y="314.34" width="16.67" height="3.99" fill="#ceecda"/>
<rect x="161.67" y="318.33" width="16.67" height="3.99" fill="#a7e0e6"/>
<rect x="161.67" y="322.32" width="16.67" height="3.99" fill="#ceecda"/>
<rect x="161.67" y="326.31" width="16.67" height="3.99" fill="#73c4ee"/>
<rect x="161.67" y="330.30" width="16.67" height="3.99" fill="#50a4e6"/>
<rect x="161.67" y="334.28" width="16.67" height="3.99" fill="#a7e0e6"/>
<rect x="161.67" y="338.27" width="16.67" height="3.99" fill="#f2e8a8"/>
<rect x="161.67" y="342.26" width="16.67" height="3.99" fill="#73c4ee"/>
<rect x="161.67" y="346.25" width="16.67" height="3.99" fill="#50a4e6"/>
<rect x="161.67" y="350.24" width="16.67" height="3.99" fill="#73c4ee"/>
<rect x="161.67" y="354.23" width="16.67" height="7.98" fill="#50a4e6"/>
<rect x="161.67" y="362.20" width="16.67" height="3.99" fill="#73c4ee"/>
<rect x="161.67" y="366.19" width="16.67" height="3.99" fill="#f2e8a8"/>
<rect x="161.67" y="370.18" width="16.67" height="3.99" fill="#ceecda"/>
<rect x="161.67" y="374.17" width="16.67" height="7.98" fill="#f4c87a"/>
<rect x="161.67" y="382.15" width="16.67" height="3.99" fill="#a7e0e6"/>
<rect x="161.67" y="386.14" width="16.67" height="3.99" fill="#ceecda"/>
<rect x="161.67" y="390.12" width="16.67" height="3.99" fill="#a7e0e6"/>
<rect x="161.67" y="394.11" width="16.67" height="7.98" fill="#e27f40"/>
<rect x="161.67" y="402.09" width="16.67" height="3.99" fill="#f0a860"/>
<rect x="161.67" y="406.08" width="16.67" height="3.99" fill="#f4c87a"/>
<rect x="161.67" y="410.07" width="16.67" height="3.99" fill="#f2e8a8"/>
<rect x="161.67" y="414.06" width="16.67" height="7.98" fill="#bf3a29"/>
<rect x="161.67" y="422.03" width="16.67" height="3.99" fill="#f0a860"/>
<rect x="161.67" y="426.02" width="16.67" height="3.99" fill="#e27f40"/>
<rect x="161.67" y="430.01" width="16.67" height="3.99" fill="#bf3a29"/>
<rect x="178.33" y="83.00" width="16.67" height="3.99" fill="#f0a860"/>
<rect x="178.33" y="86.99" width="16.67" height="3.99" fill="#e27f40"/>
<rect x="178.33" y="90.98" width="16.67" height="7.98" fill="#a82627"/>
<rect x="178.33" y="98.95" width="16.67" height="3.99" fill="#9a1c26"/>
<rect x="178.33" y="102.94" width="16.67" height="3.99" fill="#a82627"/>
<rect x="178.33" y="106.93" width="16.67" height="7.98" fill="#9a1c26"/>
<rect x="178.33" y="114.91" width="16.67" height="7.98" fill="#a82627"/>
<rect x="178.33" y="122.89" width="16.67" height="3.99" fill="#9a1c26"/>
<rect x="178.33" y="126.88" width="16.67" height="3.99" fill="#a82627"/>
<rect x="178.33" y="130.86" width="16.67" height="3.99" fill="#9a1c26"/>
<rect x="178.33" y="134.85" width="16.67" height="3.99" fill="#a82627"/>
<rect x="178.33" y="138.84" width="16.67" height="7.98" fill="#9a1c26"/>
<rect x="178.33" y="146.82" width="16.67" height="3.99" fill="#a82627"/>
<rect x="178.33" y="150.81" width="16.67" height="19.94" fill="#9a1c26"/>
<rect x="178.33" y="170.75" width="16.67" height="3.99" fill="#e27f40"/>
<rect x="178.33" y="174.74" width="16.67" height="3.99" fill="#a82627"/>
<rect x="178.33" y="178.73" width="16.67" height="3.99" fill="#e27f40"/>
<rect x="178.33" y="182.72" width="16.67" height="7.98" fill="#a82627"/>
<rect x="178.33" y="190.69" width="16.67" height="7.98" fill="#9a1c26"/>
<rect x="178.33" y="198.67" width="16.67" height="7.98" fill="#a82627"/>
<rect x="178.33" y="206.65" width="16.67" height="3.99" fill="#9a1c26"/>
<rect x="178.33" y="210.64" width="16.67" height="3.99" fill="#e27f40"/>
<rect x="178.33" y="214.62" width="16.67" height="11.97" fill="#f0a860"/>
<rect x="178.33" y="226.59" width="16.67" height="3.99" fill="#a82627"/>
<rect x="178.33" y="230.58" width="16.67" height="3.99" fill="#ceecda"/>
<rect x="178.33" y="234.57" width="16.67" height="3.99" fill="#f4c87a"/>
<rect x="178.33" y="238.56" width="16.67" height="7.98" fill="#f0a860"/>
<rect x="178.33" y="246.53" width="16.67" height="3.99" fill="#f4c87a"/>
<rect x="178.33" y="250.52" width="16.67" height="3.99" fill="#f0a860"/>
<rect x="178.33" y="254.51" width="16.67" height="7.98" fill="#ceecda"/>
<rect x="178.33" y="262.49" width="16.67" height="3.99" fill="#a7e0e6"/>
<rect x="178.33" y="266.48" width="16.67" height="7.98" fill="#f0a860"/>
<rect x="178.33" y="274.45" width="16.67" height="3.99" fill="#e27f40"/>
<rect x="178.33" y="278.44" width="16.67" height="3.99" fill="#ceecda"/>
<rect x="178.33" y="282.43" width="16.67" height="3.99" fill="#f0a860"/>
<rect x="178.33" y="286.42" width="16.67" height="3.99" fill="#ceecda"/>
<rect x="178.33" y="290.41" width="16.67" height="3.99" fill="#e27f40"/>
<rect x="178.33" y="294.40" width="16.67" height="3.99" fill="#f2e8a8"/>
<rect x="178.33" y="298.39" width="16.67" height="3.99" fill="#f0a860"/>
<rect x="178.33" y="302.38" width="16.67" height="3.99" fill="#a7e0e6"/>
<rect x="178.33" y="306.36" width="16.67" height="3.99" fill="#73c4ee"/>
<rect x="178.33" y="310.35" width="16.67" height="3.99" fill="#a7e0e6"/>
<rect x="178.33" y="314.34" width="16.67" height="3.99" fill="#f2e8a8"/>
<rect x="178.33" y="318.33" width="16.67" height="3.99" fill="#e27f40"/>
<rect x="178.33" y="322.32" width="16.67" height="7.98" fill="#f0a860"/>
<rect x="178.33" y="330.30" width="16.67" height="3.99" fill="#a7e0e6"/>
<rect x="178.33" y="334.28" width="16.67" height="3.99" fill="#f2e8a8"/>
<rect x="178.33" y="338.27" width="16.67" height="3.99" fill="#a7e0e6"/>
<rect x="178.33" y="342.26" width="16.67" height="3.99" fill="#f4c87a"/>
<rect x="178.33" y="346.25" width="16.67" height="3.99" fill="#f2e8a8"/>
<rect x="178.33" y="350.24" width="16.67" height="3.99" fill="#f0a860"/>
<rect x="178.33" y="354.23" width="16.67" height="3.99" fill="#f2e8a8"/>
<rect x="178.33" y="358.22" width="16.67" height="3.99" fill="#f0a860"/>
<rect x="178.33" y="362.20" width="16.67" height="3.99" fill="#f2e8a8"/>
<rect x="178.33" y="366.19" width="16.67" height="3.99" fill="#50a4e6"/>
<rect x="178.33" y="370.18" width="16.67" height="3.99" fill="#f2e8a8"/>
<rect x="178.33" y="374.17" width="16.67" height="3.99" fill="#f0a860"/>
<rect x="178.33" y="378.16" width="16.67" height="3.99" fill="#ceecda"/>
<rect x="178.33" y="382.15" width="16.67" height="3.99" fill="#f4c87a"/>
<rect x="178.33" y="386.14" width="16.67" height="3.99" fill="#ceecda"/>
<rect x="178.33" y="390.12" width="16.67" height="3.99" fill="#e27f40"/>
<rect x="178.33" y="394.11" width="16.67" height="7.98" fill="#f0a860"/>
<rect x="178.33" y="406.08" width="16.67" height="3.99" fill="#f4c87a"/>
<rect x="178.33" y="410.07" width="16.67" height="3.99" fill="#f0a860"/>
<rect x="178.33" y="414.06" width="16.67" height="3.99" fill="#e27f40"/>
<rect x="178.33" y="418.05" width="16.67" height="3.99" fill="#f0a860"/>
<rect x="178.33" y="422.03" width="16.67" height="3.99" fill="#e27f40"/>
<rect x="178.33" y="426.02" width="16.67" height="7.98" fill="#f0a860"/>
<rect x="195.00" y="83.00" width="16.67" height="7.98" fill="#9a1c26"/>
<rect x="195.00" y="90.98" width="16.67" height="3.99" fill="#a82627"/>
<rect x="195.00" y="94.97" width="16.67" height="3.99" fill="#e27f40"/>
<rect x="195.00" y="98.95" width="16.67" height="7.98" fill="#9a1c26"/>
<rect x="195.00" y="106.93" width="16.67" height="3.99" fill="#e27f40"/>
<rect x="195.00" y="110.92" width="16.67" height="3.99" fill="#a82627"/>
<rect x="195.00" y="114.91" width="16.67" height="11.97" fill="#9a1c26"/>
<rect x="195.00" y="126.88" width="16.67" height="11.97" fill="#a82627"/>
<rect x="195.00" y="138.84" width="16.67" height="7.98" fill="#9a1c26"/>
<rect x="195.00" y="146.82" width="16.67" height="3.99" fill="#a82627"/>
<rect x="195.00" y="150.81" width="16.67" height="7.98" fill="#9a1c26"/>
<rect x="195.00" y="158.78" width="16.67" height="3.99" fill="#e27f40"/>
<rect x="195.00" y="162.77" width="16.67" height="3.99" fill="#a82627"/>
<rect x="195.00" y="166.76" width="16.67" height="7.98" fill="#9a1c26"/>
<rect x="195.00" y="174.74" width="16.67" height="3.99" fill="#a82627"/>
<rect x="195.00" y="178.73" width="16.67" height="11.97" fill="#9a1c26"/>
<rect x="195.00" y="190.69" width="16.67" height="3.99" fill="#a82627"/>
<rect x="195.00" y="194.68" width="16.67" height="3.99" fill="#9a1c26"/>
<rect x="195.00" y="198.67" width="16.67" height="7.98" fill="#e27f40"/>
<rect x="195.00" y="206.65" width="16.67" height="11.97" fill="#f4c87a"/>
<rect x="195.00" y="218.61" width="16.67" height="7.98" fill="#f0a860"/>
<rect x="195.00" y="226.59" width="16.67" height="3.99" fill="#e27f40"/>
<rect x="195.00" y="230.58" width="16.67" height="3.99" fill="#a82627"/>
<rect x="195.00" y="234.57" width="16.67" height="3.99" fill="#f0a860"/>
<rect x="195.00" y="238.56" width="16.67" height="3.99" fill="#a82627"/>
<rect x="195.00" y="242.55" width="16.67" height="3.99" fill="#f0a860"/>
<rect x="195.00" y="246.53" width="16.67" height="3.99" fill="#e27f40"/>
<rect x="195.00" y="250.52" width="16.67" height="3.99" fill="#ceecda"/>
<rect x="195.00" y="254.51" width="16.67" height="3.99" fill="#f4c87a"/>
<rect x="195.00" y="258.50" width="16.67" height="3.99" fill="#e27f40"/>
<rect x="195.00" y="262.49" width="16.67" height="3.99" fill="#f4c87a"/>
<rect x="195.00" y="266.48" width="16.67" height="3.99" fill="#f0a860"/>
<rect x="195.00" y="270.47" width="16.67" height="3.99" fill="#f4c87a"/>
<rect x="195.00" y="274.45" width="16.67" height="3.99" fill="#f2e8a8"/>
<rect x="195.00" y="278.44" width="16.67" height="3.99" fill="#e27f40"/>
<rect x="195.00" y="282.43" width="16.67" height="3.99" fill="#f0a860"/>
<rect x="195.00" y="286.42" width="16.67" height="3.99" fill="#f2e8a8"/>
<rect x="195.00" y="290.41" width="16.67" height="3.99" fill="#f0a860"/>
<rect x="195.00" y="294.40" width="16.67" height="3.99" fill="#f4c87a"/>
<rect x="195.00" y="298.39" width="16.67" height="3.99" fill="#f0a860"/>
<rect x="195.00" y="302.38" width="16.67" height="3.99" fill="#ceecda"/>
<rect x="195.00" y="306.36" width="16.67" height="3.99" fill="#f2e8a8"/>
<rect x="195.00" y="310.35" width="16.67" height="3.99" fill="#ceecda"/>
<rect x="195.00" y="314.34" width="16.67" height="3.99" fill="#f0a860"/>
<rect x="195.00" y="318.33" width="16.67" height="3.99" fill="#f4c87a"/>
<rect x="195.00" y="322.32" width="16.67" height="3.99" fill="#f0a860"/>
<rect x="195.00" y="326.31" width="16.67" height="3.99" fill="#ceecda"/>
<rect x="195.00" y="330.30" width="16.67" height="3.99" fill="#f4c87a"/>
<rect x="195.00" y="334.28" width="16.67" height="3.99" fill="#f2e8a8"/>
<rect x="195.00" y="338.27" width="16.67" height="3.99" fill="#f0a860"/>
<rect x="195.00" y="342.26" width="16.67" height="3.99" fill="#ceecda"/>
<rect x="195.00" y="346.25" width="16.67" height="3.99" fill="#73c4ee"/>
<rect x="195.00" y="350.24" width="16.67" height="3.99" fill="#a7e0e6"/>
<rect x="195.00" y="354.23" width="16.67" height="3.99" fill="#73c4ee"/>
<rect x="195.00" y="358.22" width="16.67" height="3.99" fill="#a7e0e6"/>
<rect x="195.00" y="362.20" width="16.67" height="7.98" fill="#f2e8a8"/>
<rect x="195.00" y="370.18" width="16.67" height="3.99" fill="#73c4ee"/>
<rect x="195.00" y="374.17" width="16.67" height="3.99" fill="#f2e8a8"/>
<rect x="195.00" y="378.16" width="16.67" height="7.98" fill="#ceecda"/>
<rect x="195.00" y="386.14" width="16.67" height="3.99" fill="#a7e0e6"/>
<rect x="195.00" y="390.12" width="16.67" height="3.99" fill="#f0a860"/>
<rect x="195.00" y="394.11" width="16.67" height="3.99" fill="#e27f40"/>
<rect x="195.00" y="398.10" width="16.67" height="7.98" fill="#f0a860"/>
<rect x="195.00" y="406.08" width="16.67" height="3.99" fill="#f4c87a"/>
<rect x="195.00" y="410.07" width="16.67" height="3.99" fill="#ceecda"/>
<rect x="195.00" y="414.06" width="16.67" height="3.99" fill="#f0a860"/>
<rect x="195.00" y="418.05" width="16.67" height="7.98" fill="#bf3a29"/>
<rect x="195.00" y="426.02" width="16.67" height="7.98" fill="#9a1c26"/>
<rect x="211.67" y="83.00" width="16.67" height="3.99" fill="#9a1c26"/>
<rect x="211.67" y="86.99" width="16.67" height="7.98" fill="#a82627"/>
<rect x="211.67" y="94.97" width="16.67" height="3.99" fill="#e27f40"/>
<rect x="211.67" y="98.95" width="16.67" height="3.99" fill="#a82627"/>
<rect x="211.67" y="102.94" width="16.67" height="3.99" fill="#9a1c26"/>
<rect x="211.67" y="106.93" width="16.67" height="15.95" fill="#a82627"/>
<rect x="211.67" y="122.89" width="16.67" height="7.98" fill="#9a1c26"/>
<rect x="211.67" y="130.86" width="16.67" height="7.98" fill="#a82627"/>
<rect x="211.67" y="138.84" width="16.67" height="11.97" fill="#9a1c26"/>
<rect x="211.67" y="150.81" width="16.67" height="3.99" fill="#e27f40"/>
<rect x="211.67" y="154.80" width="16.67" height="3.99" fill="#a82627"/>
<rect x="211.67" y="158.78" width="16.67" height="7.98" fill="#e27f40"/>
<rect x="211.67" y="166.76" width="16.67" height="3.99" fill="#a82627"/>
<rect x="211.67" y="170.75" width="16.67" height="3.99" fill="#9a1c26"/>
<rect x="211.67" y="174.74" width="16.67" height="3.99" fill="#a82627"/>
<rect x="211.67" y="178.73" width="16.67" height="3.99" fill="#e27f40"/>
<rect x="211.67" y="182.72" width="16.67" height="3.99" fill="#f4c87a"/>
<rect x="211.67" y="186.70" width="16.67" height="7.98" fill="#e27f40"/>
<rect x="211.67" y="194.68" width="16.67" height="7.98" fill="#9a1c26"/>
<rect x="211.67" y="202.66" width="16.67" height="3.99" fill="#e27f40"/>
<rect x="211.67" y="206.65" width="16.67" height="3.99" fill="#f2e8a8"/>
<rect x="211.67" y="210.64" width="16.67" height="3.99" fill="#a82627"/>
<rect x="211.67" y="214.62" width="16.67" height="7.98" fill="#e27f40"/>
<rect x="211.67" y="222.60" width="16.67" height="3.99" fill="#f4c87a"/>
<rect x="211.67" y="226.59" width="16.67" height="3.99" fill="#f0a860"/>
<rect x="211.67" y="230.58" width="16.67" height="7.98" fill="#f4c87a"/>
<rect x="211.67" y="238.56" width="16.67" height="3.99" fill="#e27f40"/>
<rect x="211.67" y="242.55" width="16.67" height="3.99" fill="#f4c87a"/>
<rect x="211.67" y="246.53" width="16.67" height="3.99" fill="#f0a860"/>
<rect x="211.67" y="250.52" width="16.67" height="3.99" fill="#a82627"/>
<rect x="211.67" y="254.51" width="16.67" height="3.99" fill="#f4c87a"/>
<rect x="211.67" y="258.50" width="16.67" height="7.98" fill="#f0a860"/>
<rect x="211.67" y="266.48" width="16.67" height="3.99" fill="#ceecda"/>
<rect x="211.67" y="270.47" width="16.67" height="3.99" fill="#e27f40"/>
<rect x="211.67" y="274.45" width="16.67" height="3.99" fill="#73c4ee"/>
<rect x="211.67" y="278.44" width="16.67" height="3.99" fill="#a7e0e6"/>
<rect x="211.67" y="282.43" width="16.67" height="3.99" fill="#f2e8a8"/>
<rect x="211.67" y="286.42" width="16.67" height="3.99" fill="#f4c87a"/>
<rect x="211.67" y="290.41" width="16.67" height="3.99" fill="#f0a860"/>
<rect x="211.67" y="294.40" width="16.67" height="3.99" fill="#ceecda"/>
<rect x="211.67" y="298.39" width="16.67" height="7.98" fill="#e27f40"/>
<rect x="211.67" y="306.36" width="16.67" height="3.99" fill="#f0a860"/>
<rect x="211.67" y="310.35" width="16.67" height="3.99" fill="#73c4ee"/>
<rect x="211.67" y="314.34" width="16.67" height="3.99" fill="#ceecda"/>
<rect x="211.67" y="318.33" width="16.67" height="3.99" fill="#a7e0e6"/>
<rect x="211.67" y="322.32" width="16.67" height="3.99" fill="#73c4ee"/>
<rect x="211.67" y="326.31" width="16.67" height="3.99" fill="#a7e0e6"/>
<rect x="211.67" y="330.30" width="16.67" height="3.99" fill="#73c4ee"/>
<rect x="211.67" y="334.28" width="16.67" height="3.99" fill="#ceecda"/>
<rect x="211.67" y="338.27" width="16.67" height="3.99" fill="#73c4ee"/>
<rect x="211.67" y="342.26" width="16.67" height="3.99" fill="#a7e0e6"/>
<rect x="211.67" y="346.25" width="16.67" height="11.97" fill="#73c4ee"/>
<rect x="211.67" y="358.22" width="16.67" height="11.97" fill="#a7e0e6"/>
<rect x="211.67" y="370.18" width="16.67" height="3.99" fill="#73c4ee"/>
<rect x="211.67" y="374.17" width="16.67" height="3.99" fill="#ceecda"/>
<rect x="211.67" y="378.16" width="16.67" height="3.99" fill="#f2e8a8"/>
<rect x="211.67" y="382.15" width="16.67" height="3.99" fill="#f0a860"/>
<rect x="211.67" y="386.14" width="16.67" height="3.99" fill="#f2e8a8"/>
<rect x="211.67" y="390.12" width="16.67" height="3.99" fill="#f0a860"/>
<rect x="211.67" y="394.11" width="16.67" height="3.99" fill="#a7e0e6"/>
<rect x="211.67" y="398.10" width="16.67" height="3.99" fill="#f4c87a"/>
<rect x="211.67" y="402.09" width="16.67" height="3.99" fill="#e27f40"/>
<rect x="211.67" y="406.08" width="16.67" height="3.99" fill="#f0a860"/>
<rect x="211.67" y="410.07" width="16.67" height="3.99" fill="#e27f40"/>
<rect x="211.67" y="414.06" width="16.67" height="3.99" fill="#f0a860"/>
<rect x="211.67" y="418.05" width="16.67" height="3.99" fill="#9a1c26"/>
<rect x="211.67" y="422.03" width="16.67" height="3.99" fill="#bf3a29"/>
<rect x="211.67" y="426.02" width="16.67" height="7.98" fill="#e27f40"/>
<rect x="228.33" y="83.00" width="16.67" height="3.99" fill="#a82627"/>
<rect x="228.33" y="86.99" width="16.67" height="7.98" fill="#f0a860"/>
<rect x="228.33" y="94.97" width="16.67" height="3.99" fill="#e27f40"/>
<rect x="228.33" y="98.95" width="16.67" height="3.99" fill="#9a1c26"/>
<rect x="228.33" y="102.94" width="16.67" height="3.99" fill="#a82627"/>
<rect x="228.33" y="106.93" width="16.67" height="11.97" fill="#9a1c26"/>
<rect x="228.33" y="118.90" width="16.67" height="3.99" fill="#a82627"/>
<rect x="228.33" y="122.89" width="16.67" height="3.99" fill="#9a1c26"/>
<rect x="228.33" y="126.88" width="16.67" height="3.99" fill="#e27f40"/>
<rect x="228.33" y="130.86" width="16.67" height="3.99" fill="#a82627"/>
<rect x="228.33" y="134.85" width="16.67" height="35.90" fill="#9a1c26"/>
<rect x="228.33" y="170.75" width="16.67" height="3.99" fill="#e27f40"/>
<rect x="228.33" y="174.74" width="16.67" height="11.97" fill="#9a1c26"/>
<rect x="228.33" y="186.70" width="16.67" height="7.98" fill="#f4c87a"/>
<rect x="228.33" y="194.68" width="16.67" height="3.99" fill="#e27f40"/>
<rect x="228.33" y="198.67" width="16.67" height="7.98" fill="#f0a860"/>
<rect x="228.33" y="206.65" width="16.67" height="3.99" fill="#a82627"/>
<rect x="228.33" y="210.64" width="16.67" height="3.99" fill="#9a1c26"/>
<rect x="228.33" y="214.62" width="16.67" height="3.99" fill="#f4c87a"/>
<rect x="228.33" y="218.61" width="16.67" height="3.99" fill="#f0a860"/>
<rect x="228.33" y="222.60" width="16.67" height="3.99" fill="#e27f40"/>
<rect x="228.33" y="226.59" width="16.67" height="3.99" fill="#a82627"/>
<rect x="228.33" y="230.58" width="16.67" height="7.98" fill="#f4c87a"/>
<rect x="228.33" y="238.56" width="16.67" height="3.99" fill="#f0a860"/>
<rect x="228.33" y="242.55" width="16.67" height="3.99" fill="#ceecda"/>
<rect x="228.33" y="246.53" width="16.67" height="3.99" fill="#f2e8a8"/>
<rect x="228.33" y="250.52" width="16.67" height="7.98" fill="#ceecda"/>
<rect x="228.33" y="258.50" width="16.67" height="3.99" fill="#f0a860"/>
<rect x="228.33" y="262.49" width="16.67" height="3.99" fill="#ceecda"/>
<rect x="228.33" y="266.48" width="16.67" height="3.99" fill="#f2e8a8"/>
<rect x="228.33" y="270.47" width="16.67" height="3.99" fill="#f0a860"/>
<rect x="228.33" y="274.45" width="16.67" height="3.99" fill="#e27f40"/>
<rect x="228.33" y="278.44" width="16.67" height="3.99" fill="#f0a860"/>
<rect x="228.33" y="282.43" width="16.67" height="3.99" fill="#73c4ee"/>
<rect x="228.33" y="286.42" width="16.67" height="3.99" fill="#f2e8a8"/>
<rect x="228.33" y="290.41" width="16.67" height="3.99" fill="#73c4ee"/>
<rect x="228.33" y="294.40" width="16.67" height="3.99" fill="#a7e0e6"/>
<rect x="228.33" y="298.39" width="16.67" height="3.99" fill="#f4c87a"/>
<rect x="228.33" y="302.38" width="16.67" height="7.98" fill="#f2e8a8"/>
<rect x="228.33" y="310.35" width="16.67" height="3.99" fill="#ceecda"/>
<rect x="228.33" y="314.34" width="16.67" height="3.99" fill="#a7e0e6"/>
<rect x="228.33" y="318.33" width="16.67" height="3.99" fill="#73c4ee"/>
<rect x="228.33" y="322.32" width="16.67" height="3.99" fill="#50a4e6"/>
<rect x="228.33" y="326.31" width="16.67" height="3.99" fill="#73c4ee"/>
<rect x="228.33" y="330.30" width="16.67" height="3.99" fill="#ceecda"/>
<rect x="228.33" y="334.28" width="16.67" height="3.99" fill="#73c4ee"/>
<rect x="228.33" y="338.27" width="16.67" height="3.99" fill="#50a4e6"/>
<rect x="228.33" y="342.26" width="16.67" height="3.99" fill="#a7e0e6"/>
<rect x="228.33" y="346.25" width="16.67" height="3.99" fill="#ceecda"/>
<rect x="228.33" y="350.24" width="16.67" height="3.99" fill="#73c4ee"/>
<rect x="228.33" y="354.23" width="16.67" height="3.99" fill="#f2e8a8"/>
<rect x="228.33" y="358.22" width="16.67" height="3.99" fill="#73c4ee"/>
<rect x="228.33" y="362.20" width="16.67" height="3.99" fill="#a7e0e6"/>
<rect x="228.33" y="366.19" width="16.67" height="3.99" fill="#50a4e6"/>
<rect x="228.33" y="370.18" width="16.67" height="3.99" fill="#a7e0e6"/>
<rect x="228.33" y="374.17" width="16.67" height="3.99" fill="#f2e8a8"/>
<rect x="228.33" y="378.16" width="16.67" height="3.99" fill="#73c4ee"/>
<rect x="228.33" y="382.15" width="16.67" height="3.99" fill="#f4c87a"/>
<rect x="228.33" y="386.14" width="16.67" height="3.99" fill="#f2e8a8"/>
<rect x="228.33" y="390.12" width="16.67" height="3.99" fill="#e27f40"/>
<rect x="228.33" y="394.11" width="16.67" height="3.99" fill="#f0a860"/>
<rect x="228.33" y="398.10" width="16.67" height="3.99" fill="#e27f40"/>
<rect x="228.33" y="402.09" width="16.67" height="7.98" fill="#f2e8a8"/>
<rect x="228.33" y="410.07" width="16.67" height="7.98" fill="#f0a860"/>
<rect x="228.33" y="418.05" width="16.67" height="3.99" fill="#f2e8a8"/>
<rect x="228.33" y="422.03" width="16.67" height="7.98" fill="#f0a860"/>
<rect x="228.33" y="430.01" width="16.67" height="3.99" fill="#ceecda"/>
<rect x="245.00" y="83.00" width="16.67" height="7.98" fill="#a82627"/>
<rect x="245.00" y="90.98" width="16.67" height="7.98" fill="#e27f40"/>
<rect x="245.00" y="98.95" width="16.67" height="3.99" fill="#a82627"/>
<rect x="245.00" y="102.94" width="16.67" height="7.98" fill="#9a1c26"/>
<rect x="245.00" y="110.92" width="16.67" height="7.98" fill="#e27f40"/>
<rect x="245.00" y="118.90" width="16.67" height="3.99" fill="#a82627"/>
<rect x="245.00" y="122.89" width="16.67" height="11.97" fill="#9a1c26"/>
<rect x="245.00" y="134.85" width="16.67" height="3.99" fill="#a82627"/>
<rect x="245.00" y="138.84" width="16.67" height="23.93" fill="#9a1c26"/>
<rect x="245.00" y="162.77" width="16.67" height="19.94" fill="#a82627"/>
<rect x="245.00" y="182.72" width="16.67" height="3.99" fill="#e27f40"/>
<rect x="245.00" y="186.70" width="16.67" height="3.99" fill="#a82627"/>
<rect x="245.00" y="190.69" width="16.67" height="11.97" fill="#e27f40"/>
<rect x="245.00" y="202.66" width="16.67" height="3.99" fill="#a82627"/>
<rect x="245.00" y="206.65" width="16.67" height="3.99" fill="#f4c87a"/>
<rect x="245.00" y="210.64" width="16.67" height="19.94" fill="#e27f40"/>
<rect x="245.00" y="230.58" width="16.67" height="3.99" fill="#f4c87a"/>
<rect x="245.00" y="234.57" width="16.67" height="3.99" fill="#e27f40"/>
<rect x="245.00" y="238.56" width="16.67" height="3.99" fill="#f0a860"/>
<rect x="245.00" y="242.55" width="16.67" height="3.99" fill="#f2e8a8"/>
<rect x="245.00" y="246.53" width="16.67" height="3.99" fill="#ceecda"/>
<rect x="245.00" y="250.52" width="16.67" height="7.98" fill="#f0a860"/>
<rect x="245.00" y="258.50" width="16.67" height="3.99" fill="#e27f40"/>
<rect x="245.00" y="262.49" width="16.67" height="3.99" fill="#ceecda"/>
<rect x="245.00" y="266.48" width="16.67" height="3.99" fill="#f2e8a8"/>
<rect x="245.00" y="270.47" width="16.67" height="3.99" fill="#73c4ee"/>
<rect x="245.00" y="274.45" width="16.67" height="3.99" fill="#f4c87a"/>
<rect x="245.00" y="278.44" width="16.67" height="3.99" fill="#f2e8a8"/>
<rect x="245.00" y="282.43" width="16.67" height="3.99" fill="#73c4ee"/>
<rect x="245.00" y="286.42" width="16.67" height="3.99" fill="#a7e0e6"/>
<rect x="245.00" y="290.41" width="16.67" height="3.99" fill="#73c4ee"/>
<rect x="245.00" y="294.40" width="16.67" height="3.99" fill="#a7e0e6"/>
<rect x="245.00" y="298.39" width="16.67" height="3.99" fill="#f4c87a"/>
<rect x="245.00" y="302.38" width="16.67" height="3.99" fill="#a7e0e6"/>
<rect x="245.00" y="306.36" width="16.67" height="7.98" fill="#e27f40"/>
<rect x="245.00" y="314.34" width="16.67" height="3.99" fill="#a7e0e6"/>
<rect x="245.00" y="318.33" width="16.67" height="7.98" fill="#73c4ee"/>
<rect x="245.00" y="326.31" width="16.67" height="3.99" fill="#ceecda"/>
<rect x="245.00" y="330.30" width="16.67" height="3.99" fill="#a7e0e6"/>
<rect x="245.00" y="334.28" width="16.67" height="3.99" fill="#f2e8a8"/>
<rect x="245.00" y="338.27" width="16.67" height="3.99" fill="#73c4ee"/>
<rect x="245.00" y="342.26" width="16.67" height="7.98" fill="#f2e8a8"/>
<rect x="245.00" y="350.24" width="16.67" height="3.99" fill="#a7e0e6"/>
<rect x="245.00" y="354.23" width="16.67" height="3.99" fill="#f2e8a8"/>
<rect x="245.00" y="358.22" width="16.67" height="3.99" fill="#a7e0e6"/>
<rect x="245.00" y="362.20" width="16.67" height="7.98" fill="#f4c87a"/>
<rect x="245.00" y="370.18" width="16.67" height="3.99" fill="#f0a860"/>
<rect x="245.00" y="374.17" width="16.67" height="3.99" fill="#ceecda"/>
<rect x="245.00" y="378.16" width="16.67" height="3.99" fill="#f2e8a8"/>
<rect x="245.00" y="382.15" width="16.67" height="3.99" fill="#a7e0e6"/>
<rect x="245.00" y="386.14" width="16.67" height="3.99" fill="#f2e8a8"/>
<rect x="245.00" y="390.12" width="16.67" height="3.99" fill="#a7e0e6"/>
<rect x="245.00" y="394.11" width="16.67" height="3.99" fill="#f2e8a8"/>
<rect x="245.00" y="398.10" width="16.67" height="3.99" fill="#a7e0e6"/>
<rect x="245.00" y="402.09" width="16.67" height="3.99" fill="#e27f40"/>
<rect x="245.00" y="406.08" width="16.67" height="3.99" fill="#bf3a29"/>
<rect x="245.00" y="410.07" width="16.67" height="3.99" fill="#9a1c26"/>
<rect x="245.00" y="414.06" width="16.67" height="3.99" fill="#f4c87a"/>
<rect x="245.00" y="418.05" width="16.67" height="3.99" fill="#e27f40"/>
<rect x="245.00" y="422.03" width="16.67" height="3.99" fill="#f0a860"/>
<rect x="245.00" y="426.02" width="16.67" height="3.99" fill="#bf3a29"/>
<rect x="245.00" y="430.01" width="16.67" height="3.99" fill="#f0a860"/>
<rect x="261.67" y="83.00" width="16.67" height="3.99" fill="#f0a860"/>
<rect x="261.67" y="86.99" width="16.67" height="3.99" fill="#a82627"/>
<rect x="261.67" y="90.98" width="16.67" height="3.99" fill="#f0a860"/>
<rect x="261.67" y="94.97" width="16.67" height="3.99" fill="#a82627"/>
<rect x="261.67" y="98.95" width="16.67" height="3.99" fill="#e27f40"/>
<rect x="261.67" y="102.94" width="16.67" height="3.99" fill="#a82627"/>
<rect x="261.67" y="106.93" width="16.67" height="15.95" fill="#9a1c26"/>
<rect x="261.67" y="122.89" width="16.67" height="3.99" fill="#e27f40"/>
<rect x="261.67" y="126.88" width="16.67" height="3.99" fill="#9a1c26"/>
<rect x="261.67" y="130.86" width="16.67" height="3.99" fill="#e27f40"/>
<rect x="261.67" y="134.85" width="16.67" height="23.93" fill="#9a1c26"/>
<rect x="261.67" y="158.78" width="16.67" height="7.98" fill="#a82627"/>
<rect x="261.67" y="166.76" width="16.67" height="3.99" fill="#9a1c26"/>
<rect x="261.67" y="170.75" width="16.67" height="3.99" fill="#e27f40"/>
<rect x="261.67" y="174.74" width="16.67" height="3.99" fill="#a82627"/>
<rect x="261.67" y="178.73" width="16.67" height="3.99" fill="#9a1c26"/>
<rect x="261.67" y="182.72" width="16.67" height="3.99" fill="#a82627"/>
<rect x="261.67" y="186.70" width="16.67" height="7.98" fill="#9a1c26"/>
<rect x="261.67" y="194.68" width="16.67" height="3.99" fill="#a82627"/>
<rect x="261.67" y="198.67" width="16.67" height="3.99" fill="#e27f40"/>
<rect x="261.67" y="202.66" width="16.67" height="3.99" fill="#f4c87a"/>
<rect x="261.67" y="206.65" width="16.67" height="3.99" fill="#f0a860"/>
<rect x="261.67" y="210.64" width="16.67" height="3.99" fill="#a7e0e6"/>
<rect x="261.67" y="214.62" width="16.67" height="3.99" fill="#f2e8a8"/>
<rect x="261.67" y="218.61" width="16.67" height="3.99" fill="#f0a860"/>
<rect x="261.67" y="222.60" width="16.67" height="11.97" fill="#e27f40"/>
<rect x="261.67" y="234.57" width="16.67" height="3.99" fill="#a82627"/>
<rect x="261.67" y="238.56" width="16.67" height="3.99" fill="#e27f40"/>
<rect x="261.67" y="242.55" width="16.67" height="3.99" fill="#f2e8a8"/>
<rect x="261.67" y="246.53" width="16.67" height="7.98" fill="#f4c87a"/>
<rect x="261.67" y="254.51" width="16.67" height="3.99" fill="#f2e8a8"/>
<rect x="261.67" y="258.50" width="16.67" height="3.99" fill="#a7e0e6"/>
<rect x="261.67" y="262.49" width="16.67" height="3.99" fill="#ceecda"/>
<rect x="261.67" y="266.48" width="16.67" height="3.99" fill="#a7e0e6"/>
<rect x="261.67" y="270.47" width="16.67" height="3.99" fill="#e27f40"/>
<rect x="261.67" y="274.45" width="16.67" height="3.99" fill="#f0a860"/>
<rect x="261.67" y="278.44" width="16.67" height="3.99" fill="#73c4ee"/>
<rect x="261.67" y="282.43" width="16.67" height="3.99" fill="#f2e8a8"/>
<rect x="261.67" y="286.42" width="16.67" height="7.98" fill="#73c4ee"/>
<rect x="261.67" y="294.40" width="16.67" height="3.99" fill="#a7e0e6"/>
<rect x="261.67" y="298.39" width="16.67" height="3.99" fill="#73c4ee"/>
<rect x="261.67" y="302.38" width="16.67" height="3.99" fill="#50a4e6"/>
<rect x="261.67" y="306.36" width="16.67" height="3.99" fill="#73c4ee"/>
<rect x="261.67" y="310.35" width="16.67" height="3.99" fill="#ceecda"/>
<rect x="261.67" y="314.34" width="16.67" height="3.99" fill="#f0a860"/>
<rect x="261.67" y="318.33" width="16.67" height="3.99" fill="#f4c87a"/>
<rect x="261.67" y="322.32" width="16.67" height="3.99" fill="#73c4ee"/>
<rect x="261.67" y="326.31" width="16.67" height="3.99" fill="#a7e0e6"/>
<rect x="261.67" y="330.30" width="16.67" height="3.99" fill="#73c4ee"/>
<rect x="261.67" y="334.28" width="16.67" height="3.99" fill="#f2e8a8"/>
<rect x="261.67" y="338.27" width="16.67" height="3.99" fill="#73c4ee"/>
<rect x="261.67" y="342.26" width="16.67" height="3.99" fill="#f2e8a8"/>
<rect x="261.67" y="346.25" width="16.67" height="3.99" fill="#a7e0e6"/>
<rect x="261.67" y="350.24" width="16.67" height="3.99" fill="#73c4ee"/>
<rect x="261.67" y="354.23" width="16.67" height="3.99" fill="#a7e0e6"/>
<rect x="261.67" y="358.22" width="16.67" height="3.99" fill="#f2e8a8"/>
<rect x="261.67" y="362.20" width="16.67" height="15.95" fill="#a7e0e6"/>
<rect x="261.67" y="378.16" width="16.67" height="3.99" fill="#f0a860"/>
<rect x="261.67" y="382.15" width="16.67" height="3.99" fill="#a7e0e6"/>
<rect x="261.67" y="386.14" width="16.67" height="3.99" fill="#f2e8a8"/>
<rect x="261.67" y="390.12" width="16.67" height="3.99" fill="#f4c87a"/>
<rect x="261.67" y="394.11" width="16.67" height="7.98" fill="#f0a860"/>
<rect x="261.67" y="402.09" width="16.67" height="11.97" fill="#e27f40"/>
<rect x="261.67" y="414.06" width="16.67" height="3.99" fill="#f0a860"/>
<rect x="261.67" y="418.05" width="16.67" height="3.99" fill="#bf3a29"/>
<rect x="261.67" y="422.03" width="16.67" height="3.99" fill="#e27f40"/>
<rect x="261.67" y="426.02" width="16.67" height="3.99" fill="#f0a860"/>
<rect x="261.67" y="430.01" width="16.67" height="3.99" fill="#e27f40"/>
<rect x="278.33" y="83.00" width="16.67" height="3.99" fill="#9a1c26"/>
<rect x="278.33" y="86.99" width="16.67" height="11.97" fill="#a82627"/>
<rect x="278.33" y="98.95" width="16.67" height="3.99" fill="#e27f40"/>
<rect x="278.33" y="102.94" width="16.67" height="15.95" fill="#9a1c26"/>
<rect x="278.33" y="118.90" width="16.67" height="3.99" fill="#a82627"/>
<rect x="278.33" y="122.89" width="16.67" height="11.97" fill="#9a1c26"/>
<rect x="278.33" y="134.85" width="16.67" height="3.99" fill="#a82627"/>
<rect x="278.33" y="138.84" width="16.67" height="43.88" fill="#9a1c26"/>
<rect x="278.33" y="182.72" width="16.67" height="3.99" fill="#e27f40"/>
<rect x="278.33" y="186.70" width="16.67" height="3.99" fill="#f0a860"/>
<rect x="278.33" y="190.69" width="16.67" height="11.97" fill="#e27f40"/>
<rect x="278.33" y="202.66" width="16.67" height="3.99" fill="#9a1c26"/>
<rect x="278.33" y="206.65" width="16.67" height="3.99" fill="#e27f40"/>
<rect x="278.33" y="210.64" width="16.67" height="7.98" fill="#f4c87a"/>
<rect x="278.33" y="218.61" width="16.67" height="3.99" fill="#f0a860"/>
<rect x="278.33" y="222.60" width="16.67" height="3.99" fill="#a82627"/>
<rect x="278.33" y="226.59" width="16.67" height="7.98" fill="#e27f40"/>
<rect x="278.33" y="234.57" width="16.67" height="11.97" fill="#f0a860"/>
<rect x="278.33" y="246.53" width="16.67" height="3.99" fill="#f4c87a"/>
<rect x="278.33" y="250.52" width="16.67" height="3.99" fill="#ceecda"/>
<rect x="278.33" y="254.51" width="16.67" height="3.99" fill="#f0a860"/>
<rect x="278.33" y="258.50" width="16.67" height="3.99" fill="#ceecda"/>
<rect x="278.33" y="262.49" width="16.67" height="3.99" fill="#f2e8a8"/>
<rect x="278.33" y="266.48" width="16.67" height="3.99" fill="#73c4ee"/>
<rect x="278.33" y="270.47" width="16.67" height="3.99" fill="#a7e0e6"/>
<rect x="278.33" y="274.45" width="16.67" height="3.99" fill="#e27f40"/>
<rect x="278.33" y="278.44" width="16.67" height="3.99" fill="#f0a860"/>
<rect x="278.33" y="282.43" width="16.67" height="3.99" fill="#e27f40"/>
<rect x="278.33" y="286.42" width="16.67" height="3.99" fill="#f0a860"/>
<rect x="278.33" y="290.41" width="16.67" height="7.98" fill="#f4c87a"/>
<rect x="278.33" y="298.39" width="16.67" height="7.98" fill="#f0a860"/>
<rect x="278.33" y="306.36" width="16.67" height="3.99" fill="#f2e8a8"/>
<rect x="278.33" y="310.35" width="16.67" height="3.99" fill="#f0a860"/>
<rect x="278.33" y="314.34" width="16.67" height="3.99" fill="#ceecda"/>
<rect x="278.33" y="318.33" width="16.67" height="3.99" fill="#73c4ee"/>
<rect x="278.33" y="322.32" width="16.67" height="3.99" fill="#a7e0e6"/>
<rect x="278.33" y="326.31" width="16.67" height="3.99" fill="#73c4ee"/>
<rect x="278.33" y="330.30" width="16.67" height="3.99" fill="#a7e0e6"/>
<rect x="278.33" y="334.28" width="16.67" height="7.98" fill="#73c4ee"/>
<rect x="278.33" y="342.26" width="16.67" height="3.99" fill="#a7e0e6"/>
<rect x="278.33" y="346.25" width="16.67" height="3.99" fill="#ceecda"/>
<rect x="278.33" y="350.24" width="16.67" height="7.98" fill="#73c4ee"/>
<rect x="278.33" y="358.22" width="16.67" height="7.98" fill="#a7e0e6"/>
<rect x="278.33" y="366.19" width="16.67" height="3.99" fill="#f2e8a8"/>
<rect x="278.33" y="370.18" width="16.67" height="3.99" fill="#ceecda"/>
<rect x="278.33" y="374.17" width="16.67" height="3.99" fill="#73c4ee"/>
<rect x="278.33" y="378.16" width="16.67" height="7.98" fill="#f0a860"/>
<rect x="278.33" y="386.14" width="16.67" height="7.98" fill="#e27f40"/>
<rect x="278.33" y="394.11" width="16.67" height="3.99" fill="#f0a860"/>
<rect x="278.33" y="398.10" width="16.67" height="3.99" fill="#f4c87a"/>
<rect x="278.33" y="402.09" width="16.67" height="3.99" fill="#f2e8a8"/>
<rect x="278.33" y="406.08" width="16.67" height="7.98" fill="#e27f40"/>
<rect x="278.33" y="414.06" width="16.67" height="3.99" fill="#f4c87a"/>
<rect x="278.33" y="418.05" width="16.67" height="3.99" fill="#f0a860"/>
<rect x="278.33" y="422.03" width="16.67" height="3.99" fill="#e27f40"/>
<rect x="278.33" y="426.02" width="16.67" height="3.99" fill="#f0a860"/>
<rect x="278.33" y="430.01" width="16.67" height="3.99" fill="#e27f40"/>
<rect x="295.00" y="83.00" width="16.67" height="3.99" fill="#e27f40"/>
<rect x="295.00" y="86.99" width="16.67" height="3.99" fill="#a82627"/>
<rect x="295.00" y="90.98" width="16.67" height="3.99" fill="#9a1c26"/>
<rect x="295.00" y="94.97" width="16.67" height="3.99" fill="#e27f40"/>
<rect x="295.00" y="98.95" width="16.67" height="7.98" fill="#9a1c26"/>
<rect x="295.00" y="106.93" width="16.67" height="3.99" fill="#a82627"/>
<rect x="295.00" y="110.92" width="16.67" height="7.98" fill="#9a1c26"/>
<rect x="295.00" y="118.90" width="16.67" height="3.99" fill="#e27f40"/>
<rect x="295.00" y="122.89" width="16.67" height="3.99" fill="#a82627"/>
<rect x="295.00" y="126.88" width="16.67" height="15.95" fill="#9a1c26"/>
<rect x="295.00" y="142.83" width="16.67" height="3.99" fill="#a82627"/>
<rect x="295.00" y="146.82" width="16.67" height="27.92" fill="#9a1c26"/>
<rect x="295.00" y="174.74" width="16.67" height="3.99" fill="#a82627"/>
<rect x="295.00" y="178.73" width="16.67" height="3.99" fill="#9a1c26"/>
<rect x="295.00" y="182.72" width="16.67" height="3.99" fill="#e27f40"/>
<rect x="295.00" y="186.70" width="16.67" height="7.98" fill="#f0a860"/>
<rect x="295.00" y="194.68" width="16.67" height="7.98" fill="#9a1c26"/>
<rect x="295.00" y="202.66" width="16.67" height="3.99" fill="#e27f40"/>
<rect x="295.00" y="206.65" width="16.67" height="3.99" fill="#f0a860"/>
<rect x="295.00" y="210.64" width="16.67" height="15.95" fill="#e27f40"/>
<rect x="295.00" y="226.59" width="16.67" height="3.99" fill="#a82627"/>
<rect x="295.00" y="230.58" width="16.67" height="3.99" fill="#ceecda"/>
<rect x="295.00" y="234.57" width="16.67" height="3.99" fill="#f0a860"/>
<rect x="295.00" y="238.56" width="16.67" height="3.99" fill="#e27f40"/>
<rect x="295.00" y="242.55" width="16.67" height="19.94" fill="#f0a860"/>
<rect x="295.00" y="262.49" width="16.67" height="3.99" fill="#f4c87a"/>
<rect x="295.00" y="266.48" width="16.67" height="3.99" fill="#f0a860"/>
<rect x="295.00" y="270.47" width="16.67" height="7.98" fill="#ceecda"/>
<rect x="295.00" y="278.44" width="16.67" height="3.99" fill="#73c4ee"/>
<rect x="295.00" y="282.43" width="16.67" height="3.99" fill="#f4c87a"/>
<rect x="295.00" y="286.42" width="16.67" height="3.99" fill="#f2e8a8"/>
<rect x="295.00" y="290.41" width="16.67" height="3.99" fill="#f0a860"/>
<rect x="295.00" y="294.40" width="16.67" height="3.99" fill="#a7e0e6"/>
<rect x="295.00" y="298.39" width="16.67" height="3.99" fill="#f2e8a8"/>
<rect x="295.00" y="302.38" width="16.67" height="3.99" fill="#ceecda"/>
<rect x="295.00" y="306.36" width="16.67" height="3.99" fill="#f4c87a"/>
<rect x="295.00" y="310.35" width="16.67" height="3.99" fill="#f2e8a8"/>
<rect x="295.00" y="314.34" width="16.67" height="3.99" fill="#73c4ee"/>
<rect x="295.00" y="318.33" width="16.67" height="7.98" fill="#a7e0e6"/>
<rect x="295.00" y="326.31" width="16.67" height="3.99" fill="#f0a860"/>
<rect x="295.00" y="330.30" width="16.67" height="7.98" fill="#ceecda"/>
<rect x="295.00" y="338.27" width="16.67" height="7.98" fill="#a7e0e6"/>
<rect x="295.00" y="346.25" width="16.67" height="3.99" fill="#ceecda"/>
<rect x="295.00" y="350.24" width="16.67" height="3.99" fill="#a7e0e6"/>
<rect x="295.00" y="354.23" width="16.67" height="3.99" fill="#f2e8a8"/>
<rect x="295.00" y="358.22" width="16.67" height="3.99" fill="#a7e0e6"/>
<rect x="295.00" y="362.20" width="16.67" height="3.99" fill="#73c4ee"/>
<rect x="295.00" y="366.19" width="16.67" height="7.98" fill="#f0a860"/>
<rect x="295.00" y="374.17" width="16.67" height="7.98" fill="#f4c87a"/>
<rect x="295.00" y="382.15" width="16.67" height="3.99" fill="#f0a860"/>
<rect x="295.00" y="386.14" width="16.67" height="3.99" fill="#f2e8a8"/>
<rect x="295.00" y="390.12" width="16.67" height="3.99" fill="#a7e0e6"/>
<rect x="295.00" y="394.11" width="16.67" height="3.99" fill="#ceecda"/>
<rect x="295.00" y="398.10" width="16.67" height="11.97" fill="#e27f40"/>
<rect x="295.00" y="410.07" width="16.67" height="3.99" fill="#f0a860"/>
<rect x="295.00" y="414.06" width="16.67" height="7.98" fill="#9a1c26"/>
<rect x="295.00" y="422.03" width="16.67" height="3.99" fill="#bf3a29"/>
<rect x="295.00" y="426.02" width="16.67" height="7.98" fill="#e27f40"/>
<rect x="311.67" y="83.00" width="16.67" height="3.99" fill="#a82627"/>
<rect x="311.67" y="86.99" width="16.67" height="3.99" fill="#9a1c26"/>
<rect x="311.67" y="90.98" width="16.67" height="7.98" fill="#f0a860"/>
<rect x="311.67" y="98.95" width="16.67" height="3.99" fill="#a82627"/>
<rect x="311.67" y="102.94" width="16.67" height="27.92" fill="#9a1c26"/>
<rect x="311.67" y="130.86" width="16.67" height="3.99" fill="#a82627"/>
<rect x="311.67" y="134.85" width="16.67" height="3.99" fill="#9a1c26"/>
<rect x="311.67" y="138.84" width="16.67" height="3.99" fill="#a82627"/>
<rect x="311.67" y="142.83" width="16.67" height="19.94" fill="#9a1c26"/>
<rect x="311.67" y="162.77" width="16.67" height="7.98" fill="#e27f40"/>
<rect x="311.67" y="170.75" width="16.67" height="3.99" fill="#a82627"/>
<rect x="311.67" y="174.74" width="16.67" height="7.98" fill="#9a1c26"/>
<rect x="311.67" y="182.72" width="16.67" height="3.99" fill="#f0a860"/>
<rect x="311.67" y="186.70" width="16.67" height="7.98" fill="#a82627"/>
<rect x="311.67" y="194.68" width="16.67" height="3.99" fill="#f0a860"/>
<rect x="311.67" y="198.67" width="16.67" height="7.98" fill="#e27f40"/>
<rect x="311.67" y="206.65" width="16.67" height="3.99" fill="#a82627"/>
<rect x="311.67" y="210.64" width="16.67" height="3.99" fill="#e27f40"/>
<rect x="311.67" y="214.62" width="16.67" height="3.99" fill="#a82627"/>
<rect x="311.67" y="218.61" width="16.67" height="3.99" fill="#f4c87a"/>
<rect x="311.67" y="222.60" width="16.67" height="3.99" fill="#f2e8a8"/>
<rect x="311.67" y="226.59" width="16.67" height="3.99" fill="#f0a860"/>
<rect x="311.67" y="230.58" width="16.67" height="7.98" fill="#f4c87a"/>
<rect x="311.67" y="238.56" width="16.67" height="3.99" fill="#f2e8a8"/>
<rect x="311.67" y="242.55" width="16.67" height="3.99" fill="#f4c87a"/>
<rect x="311.67" y="246.53" width="16.67" height="3.99" fill="#ceecda"/>
<rect x="311.67" y="250.52" width="16.67" height="3.99" fill="#a82627"/>
<rect x="311.67" y="254.51" width="16.67" height="7.98" fill="#f0a860"/>
<rect x="311.67" y="262.49" width="16.67" height="7.98" fill="#e27f40"/>
<rect x="311.67" y="270.47" width="16.67" height="3.99" fill="#f4c87a"/>
<rect x="311.67" y="274.45" width="16.67" height="7.98" fill="#f0a860"/>
<rect x="311.67" y="282.43" width="16.67" height="3.99" fill="#f4c87a"/>
<rect x="311.67" y="286.42" width="16.67" height="3.99" fill="#ceecda"/>
<rect x="311.67" y="290.41" width="16.67" height="3.99" fill="#a7e0e6"/>
<rect x="311.67" y="294.40" width="16.67" height="3.99" fill="#f0a860"/>
<rect x="311.67" y="298.39" width="16.67" height="3.99" fill="#f4c87a"/>
<rect x="311.67" y="302.38" width="16.67" height="7.98" fill="#e27f40"/>
<rect x="311.67" y="310.35" width="16.67" height="3.99" fill="#f0a860"/>
<rect x="311.67" y="314.34" width="16.67" height="3.99" fill="#f2e8a8"/>
<rect x="311.67" y="318.33" width="16.67" height="3.99" fill="#f4c87a"/>
<rect x="311.67" y="322.32" width="16.67" height="7.98" fill="#f2e8a8"/>
<rect x="311.67" y="330.30" width="16.67" height="3.99" fill="#ceecda"/>
<rect x="311.67" y="334.28" width="16.67" height="3.99" fill="#f2e8a8"/>
<rect x="311.67" y="338.27" width="16.67" height="3.99" fill="#a7e0e6"/>
<rect x="311.67" y="342.26" width="16.67" height="3.99" fill="#73c4ee"/>
<rect x="311.67" y="346.25" width="16.67" height="3.99" fill="#50a4e6"/>
<rect x="311.67" y="350.24" width="16.67" height="3.99" fill="#73c4ee"/>
<rect x="311.67" y="354.23" width="16.67" height="7.98" fill="#50a4e6"/>
<rect x="311.67" y="362.20" width="16.67" height="3.99" fill="#73c4ee"/>
<rect x="311.67" y="366.19" width="16.67" height="3.99" fill="#ceecda"/>
<rect x="311.67" y="370.18" width="16.67" height="7.98" fill="#f0a860"/>
<rect x="311.67" y="378.16" width="16.67" height="3.99" fill="#f4c87a"/>
<rect x="311.67" y="382.15" width="16.67" height="3.99" fill="#f0a860"/>
<rect x="311.67" y="386.14" width="16.67" height="3.99" fill="#ceecda"/>
<rect x="311.67" y="390.12" width="16.67" height="3.99" fill="#f4c87a"/>
<rect x="311.67" y="394.11" width="16.67" height="3.99" fill="#ceecda"/>
<rect x="311.67" y="398.10" width="16.67" height="3.99" fill="#f2e8a8"/>
<rect x="311.67" y="402.09" width="16.67" height="3.99" fill="#f4c87a"/>
<rect x="311.67" y="406.08" width="16.67" height="3.99" fill="#f0a860"/>
<rect x="311.67" y="410.07" width="16.67" height="3.99" fill="#f2e8a8"/>
<rect x="311.67" y="414.06" width="16.67" height="3.99" fill="#ceecda"/>
<rect x="311.67" y="418.05" width="16.67" height="3.99" fill="#f0a860"/>
<rect x="311.67" y="422.03" width="16.67" height="7.98" fill="#f4c87a"/>
<rect x="311.67" y="430.01" width="16.67" height="3.99" fill="#f0a860"/>
<rect x="328.33" y="83.00" width="16.67" height="7.98" fill="#f0a860"/>
<rect x="328.33" y="90.98" width="16.67" height="3.99" fill="#e27f40"/>
<rect x="328.33" y="94.97" width="16.67" height="3.99" fill="#a82627"/>
<rect x="328.33" y="98.95" width="16.67" height="3.99" fill="#9a1c26"/>
<rect x="328.33" y="102.94" width="16.67" height="3.99" fill="#a82627"/>
<rect x="328.33" y="106.93" width="16.67" height="3.99" fill="#e27f40"/>
<rect x="328.33" y="110.92" width="16.67" height="7.98" fill="#9a1c26"/>
<rect x="328.33" y="118.90" width="16.67" height="3.99" fill="#a82627"/>
<rect x="328.33" y="122.89" width="16.67" height="7.98" fill="#9a1c26"/>
<rect x="328.33" y="130.86" width="16.67" height="3.99" fill="#a82627"/>
<rect x="328.33" y="134.85" width="16.67" height="3.99" fill="#9a1c26"/>
<rect x="328.33" y="138.84" width="16.67" height="3.99" fill="#a82627"/>
<rect x="328.33" y="142.83" width="16.67" height="19.94" fill="#9a1c26"/>
<rect x="328.33" y="162.77" width="16.67" height="3.99" fill="#e27f40"/>
<rect x="328.33" y="166.76" width="16.67" height="3.99" fill="#a82627"/>
<rect x="328.33" y="170.75" width="16.67" height="3.99" fill="#e27f40"/>
<rect x="328.33" y="174.74" width="16.67" height="3.99" fill="#f0a860"/>
<rect x="328.33" y="178.73" width="16.67" height="3.99" fill="#e27f40"/>
<rect x="328.33" y="182.72" width="16.67" height="3.99" fill="#9a1c26"/>
<rect x="328.33" y="186.70" width="16.67" height="3.99" fill="#e27f40"/>
<rect x="328.33" y="190.69" width="16.67" height="3.99" fill="#f0a860"/>
<rect x="328.33" y="194.68" width="16.67" height="3.99" fill="#a82627"/>
<rect x="328.33" y="198.67" width="16.67" height="7.98" fill="#e27f40"/>
<rect x="328.33" y="206.65" width="16.67" height="11.97" fill="#a82627"/>
<rect x="328.33" y="218.61" width="16.67" height="3.99" fill="#f0a860"/>
<rect x="328.33" y="222.60" width="16.67" height="7.98" fill="#ceecda"/>
<rect x="328.33" y="230.58" width="16.67" height="3.99" fill="#a82627"/>
<rect x="328.33" y="234.57" width="16.67" height="3.99" fill="#f0a860"/>
<rect x="328.33" y="238.56" width="16.67" height="3.99" fill="#f2e8a8"/>
<rect x="328.33" y="242.55" width="16.67" height="3.99" fill="#f4c87a"/>
<rect x="328.33" y="246.53" width="16.67" height="3.99" fill="#f0a860"/>
<rect x="328.33" y="250.52" width="16.67" height="7.98" fill="#ceecda"/>
<rect x="328.33" y="258.50" width="16.67" height="3.99" fill="#a7e0e6"/>
<rect x="328.33" y="262.49" width="16.67" height="11.97" fill="#ceecda"/>
<rect x="328.33" y="274.45" width="16.67" height="3.99" fill="#a7e0e6"/>
<rect x="328.33" y="278.44" width="16.67" height="3.99" fill="#73c4ee"/>
<rect x="328.33" y="282.43" width="16.67" height="3.99" fill="#a7e0e6"/>
<rect x="328.33" y="286.42" width="16.67" height="7.98" fill="#50a4e6"/>
<rect x="328.33" y="294.40" width="16.67" height="3.99" fill="#f0a860"/>
<rect x="328.33" y="298.39" width="16.67" height="3.99" fill="#ceecda"/>
<rect x="328.33" y="302.38" width="16.67" height="3.99" fill="#f0a860"/>
<rect x="328.33" y="306.36" width="16.67" height="3.99" fill="#f2e8a8"/>
<rect x="328.33" y="310.35" width="16.67" height="3.99" fill="#a7e0e6"/>
<rect x="328.33" y="314.34" width="16.67" height="3.99" fill="#73c4ee"/>
<rect x="328.33" y="318.33" width="16.67" height="3.99" fill="#f0a860"/>
<rect x="328.33" y="322.32" width="16.67" height="3.99" fill="#a7e0e6"/>
<rect x="328.33" y="326.31" width="16.67" height="3.99" fill="#73c4ee"/>
<rect x="328.33" y="330.30" width="16.67" height="3.99" fill="#a7e0e6"/>
<rect x="328.33" y="334.28" width="16.67" height="11.97" fill="#73c4ee"/>
<rect x="328.33" y="346.25" width="16.67" height="7.98" fill="#a7e0e6"/>
<rect x="328.33" y="354.23" width="16.67" height="3.99" fill="#50a4e6"/>
<rect x="328.33" y="358.22" width="16.67" height="3.99" fill="#73c4ee"/>
<rect x="328.33" y="362.20" width="16.67" height="3.99" fill="#a7e0e6"/>
<rect x="328.33" y="366.19" width="16.67" height="3.99" fill="#73c4ee"/>
<rect x="328.33" y="370.18" width="16.67" height="3.99" fill="#50a4e6"/>
<rect x="328.33" y="374.17" width="16.67" height="3.99" fill="#ceecda"/>
<rect x="328.33" y="378.16" width="16.67" height="3.99" fill="#f0a860"/>
<rect x="328.33" y="382.15" width="16.67" height="3.99" fill="#f2e8a8"/>
<rect x="328.33" y="386.14" width="16.67" height="3.99" fill="#ceecda"/>
<rect x="328.33" y="390.12" width="16.67" height="3.99" fill="#f0a860"/>
<rect x="328.33" y="394.11" width="16.67" height="3.99" fill="#73c4ee"/>
<rect x="328.33" y="398.10" width="16.67" height="3.99" fill="#a7e0e6"/>
<rect x="328.33" y="402.09" width="16.67" height="3.99" fill="#e27f40"/>
<rect x="328.33" y="406.08" width="16.67" height="3.99" fill="#f0a860"/>
<rect x="328.33" y="410.07" width="16.67" height="3.99" fill="#bf3a29"/>
<rect x="328.33" y="414.06" width="16.67" height="3.99" fill="#9a1c26"/>
<rect x="328.33" y="418.05" width="16.67" height="3.99" fill="#f0a860"/>
<rect x="328.33" y="422.03" width="16.67" height="7.98" fill="#9a1c26"/>
<rect x="328.33" y="430.01" width="16.67" height="3.99" fill="#e27f40"/>
<rect x="345.00" y="83.00" width="16.67" height="11.97" fill="#9a1c26"/>
<rect x="345.00" y="94.97" width="16.67" height="3.99" fill="#e27f40"/>
<rect x="345.00" y="98.95" width="16.67" height="3.99" fill="#a82627"/>
<rect x="345.00" y="102.94" width="16.67" height="15.95" fill="#9a1c26"/>
<rect x="345.00" y="118.90" width="16.67" height="3.99" fill="#e27f40"/>
<rect x="345.00" y="122.89" width="16.67" height="7.98" fill="#a82627"/>
<rect x="345.00" y="130.86" width="16.67" height="11.97" fill="#9a1c26"/>
<rect x="345.00" y="142.83" width="16.67" height="3.99" fill="#e27f40"/>
<rect x="345.00" y="146.82" width="16.67" height="31.91" fill="#9a1c26"/>
<rect x="345.00" y="178.73" width="16.67" height="3.99" fill="#a82627"/>
<rect x="345.00" y="182.72" width="16.67" height="3.99" fill="#e27f40"/>
<rect x="345.00" y="186.70" width="16.67" height="7.98" fill="#a82627"/>
<rect x="345.00" y="194.68" width="16.67" height="7.98" fill="#e27f40"/>
<rect x="345.00" y="202.66" width="16.67" height="7.98" fill="#f0a860"/>
<rect x="345.00" y="210.64" width="16.67" height="3.99" fill="#e27f40"/>
<rect x="345.00" y="214.62" width="16.67" height="3.99" fill="#a82627"/>
<rect x="345.00" y="218.61" width="16.67" height="3.99" fill="#f0a860"/>
<rect x="345.00" y="222.60" width="16.67" height="3.99" fill="#f4c87a"/>
<rect x="345.00" y="226.59" width="16.67" height="7.98" fill="#e27f40"/>
<rect x="345.00" y="234.57" width="16.67" height="3.99" fill="#f4c87a"/>
<rect x="345.00" y="238.56" width="16.67" height="3.99" fill="#f0a860"/>
<rect x="345.00" y="242.55" width="16.67" height="3.99" fill="#a7e0e6"/>
<rect x="345.00" y="246.53" width="16.67" height="3.99" fill="#f0a860"/>
<rect x="345.00" y="250.52" width="16.67" height="3.99" fill="#a7e0e6"/>
<rect x="345.00" y="254.51" width="16.67" height="3.99" fill="#f2e8a8"/>
<rect x="345.00" y="258.50" width="16.67" height="3.99" fill="#ceecda"/>
<rect x="345.00" y="262.49" width="16.67" height="3.99" fill="#f2e8a8"/>
<rect x="345.00" y="266.48" width="16.67" height="3.99" fill="#f0a860"/>
<rect x="345.00" y="270.47" width="16.67" height="3.99" fill="#e27f40"/>
<rect x="345.00" y="274.45" width="16.67" height="3.99" fill="#f2e8a8"/>
<rect x="345.00" y="278.44" width="16.67" height="3.99" fill="#ceecda"/>
<rect x="345.00" y="282.43" width="16.67" height="3.99" fill="#73c4ee"/>
<rect x="345.00" y="286.42" width="16.67" height="3.99" fill="#f0a860"/>
<rect x="345.00" y="290.41" width="16.67" height="3.99" fill="#f4c87a"/>
<rect x="345.00" y="294.40" width="16.67" height="7.98" fill="#a7e0e6"/>
<rect x="345.00" y="302.38" width="16.67" height="3.99" fill="#f2e8a8"/>
<rect x="345.00" y="306.36" width="16.67" height="3.99" fill="#73c4ee"/>
<rect x="345.00" y="310.35" width="16.67" height="3.99" fill="#a7e0e6"/>
<rect x="345.00" y="314.34" width="16.67" height="3.99" fill="#f0a860"/>
<rect x="345.00" y="318.33" width="16.67" height="3.99" fill="#ceecda"/>
<rect x="345.00" y="322.32" width="16.67" height="7.98" fill="#a7e0e6"/>
<rect x="345.00" y="330.30" width="16.67" height="3.99" fill="#73c4ee"/>
<rect x="345.00" y="334.28" width="16.67" height="3.99" fill="#ceecda"/>
<rect x="345.00" y="338.27" width="16.67" height="3.99" fill="#a7e0e6"/>
<rect x="345.00" y="342.26" width="16.67" height="3.99" fill="#f2e8a8"/>
<rect x="345.00" y="346.25" width="16.67" height="3.99" fill="#ceecda"/>
<rect x="345.00" y="350.24" width="16.67" height="3.99" fill="#a7e0e6"/>
<rect x="345.00" y="354.23" width="16.67" height="7.98" fill="#f2e8a8"/>
<rect x="345.00" y="362.20" width="16.67" height="7.98" fill="#ceecda"/>
<rect x="345.00" y="370.18" width="16.67" height="3.99" fill="#f0a860"/>
<rect x="345.00" y="374.17" width="16.67" height="3.99" fill="#f2e8a8"/>
<rect x="345.00" y="378.16" width="16.67" height="3.99" fill="#ceecda"/>
<rect x="345.00" y="382.15" width="16.67" height="7.98" fill="#f0a860"/>
<rect x="345.00" y="390.12" width="16.67" height="3.99" fill="#f4c87a"/>
<rect x="345.00" y="394.11" width="16.67" height="3.99" fill="#f0a860"/>
<rect x="345.00" y="398.10" width="16.67" height="3.99" fill="#e27f40"/>
<rect x="345.00" y="402.09" width="16.67" height="3.99" fill="#f4c87a"/>
<rect x="345.00" y="406.08" width="16.67" height="3.99" fill="#f0a860"/>
<rect x="345.00" y="410.07" width="16.67" height="3.99" fill="#f2e8a8"/>
<rect x="345.00" y="414.06" width="16.67" height="3.99" fill="#e27f40"/>
<rect x="345.00" y="418.05" width="16.67" height="3.99" fill="#f0a860"/>
<rect x="345.00" y="422.03" width="16.67" height="7.98" fill="#9a1c26"/>
<rect x="345.00" y="430.01" width="16.67" height="3.99" fill="#e27f40"/>
<rect x="361.67" y="83.00" width="16.67" height="3.99" fill="#e27f40"/>
<rect x="361.67" y="86.99" width="16.67" height="11.97" fill="#a82627"/>
<rect x="361.67" y="98.95" width="16.67" height="3.99" fill="#f0a860"/>
<rect x="361.67" y="102.94" width="16.67" height="3.99" fill="#e27f40"/>
<rect x="361.67" y="106.93" width="16.67" height="7.98" fill="#9a1c26"/>
<rect x="361.67" y="114.91" width="16.67" height="3.99" fill="#a82627"/>
<rect x="361.67" y="118.90" width="16.67" height="3.99" fill="#9a1c26"/>
<rect x="361.67" y="122.89" width="16.67" height="7.98" fill="#a82627"/>
<rect x="361.67" y="130.86" width="16.67" height="3.99" fill="#9a1c26"/>
<rect x="361.67" y="134.85" width="16.67" height="3.99" fill="#e27f40"/>
<rect x="361.67" y="138.84" width="16.67" height="7.98" fill="#a82627"/>
<rect x="361.67" y="146.82" width="16.67" height="3.99" fill="#e27f40"/>
<rect x="361.67" y="150.81" width="16.67" height="3.99" fill="#a82627"/>
<rect x="361.67" y="154.80" width="16.67" height="7.98" fill="#9a1c26"/>
<rect x="361.67" y="162.77" width="16.67" height="3.99" fill="#a82627"/>
<rect x="361.67" y="166.76" width="16.67" height="7.98" fill="#9a1c26"/>
<rect x="361.67" y="174.74" width="16.67" height="11.97" fill="#e27f40"/>
<rect x="361.67" y="186.70" width="16.67" height="7.98" fill="#9a1c26"/>
<rect x="361.67" y="194.68" width="16.67" height="3.99" fill="#a82627"/>
<rect x="361.67" y="198.67" width="16.67" height="7.98" fill="#e27f40"/>
<rect x="361.67" y="206.65" width="16.67" height="3.99" fill="#f0a860"/>
<rect x="361.67" y="210.64" width="16.67" height="3.99" fill="#e27f40"/>
<rect x="361.67" y="214.62" width="16.67" height="3.99" fill="#f4c87a"/>
<rect x="361.67" y="218.61" width="16.67" height="3.99" fill="#e27f40"/>
<rect x="361.67" y="222.60" width="16.67" height="3.99" fill="#f0a860"/>
<rect x="361.67" y="226.59" width="16.67" height="3.99" fill="#e27f40"/>
<rect x="361.67" y="230.58" width="16.67" height="3.99" fill="#f2e8a8"/>
<rect x="361.67" y="234.57" width="16.67" height="11.97" fill="#f0a860"/>
<rect x="361.67" y="246.53" width="16.67" height="3.99" fill="#e27f40"/>
<rect x="361.67" y="250.52" width="16.67" height="3.99" fill="#f4c87a"/>
<rect x="361.67" y="254.51" width="16.67" height="3.99" fill="#f0a860"/>
<rect x="361.67" y="258.50" width="16.67" height="3.99" fill="#f2e8a8"/>
<rect x="361.67" y="262.49" width="16.67" height="3.99" fill="#e27f40"/>
<rect x="361.67" y="266.48" width="16.67" height="3.99" fill="#ceecda"/>
<rect x="361.67" y="270.47" width="16.67" height="3.99" fill="#a7e0e6"/>
<rect x="361.67" y="274.45" width="16.67" height="3.99" fill="#ceecda"/>
<rect x="361.67" y="278.44" width="16.67" height="3.99" fill="#f0a860"/>
<rect x="361.67" y="282.43" width="16.67" height="3.99" fill="#f4c87a"/>
<rect x="361.67" y="286.42" width="16.67" height="3.99" fill="#e27f40"/>
<rect x="361.67" y="290.41" width="16.67" height="3.99" fill="#f4c87a"/>
<rect x="361.67" y="294.40" width="16.67" height="3.99" fill="#ceecda"/>
<rect x="361.67" y="298.39" width="16.67" height="3.99" fill="#f2e8a8"/>
<rect x="361.67" y="302.38" width="16.67" height="3.99" fill="#a7e0e6"/>
<rect x="361.67" y="306.36" width="16.67" height="7.98" fill="#73c4ee"/>
<rect x="361.67" y="314.34" width="16.67" height="3.99" fill="#ceecda"/>
<rect x="361.67" y="318.33" width="16.67" height="3.99" fill="#f2e8a8"/>
<rect x="361.67" y="322.32" width="16.67" height="3.99" fill="#f0a860"/>
<rect x="361.67" y="326.31" width="16.67" height="3.99" fill="#f2e8a8"/>
<rect x="361.67" y="330.30" width="16.67" height="3.99" fill="#a7e0e6"/>
<rect x="361.67" y="334.28" width="16.67" height="3.99" fill="#f2e8a8"/>
<rect x="361.67" y="338.27" width="16.67" height="3.99" fill="#f4c87a"/>
<rect x="361.67" y="342.26" width="16.67" height="7.98" fill="#ceecda"/>
<rect x="361.67" y="350.24" width="16.67" height="7.98" fill="#73c4ee"/>
<rect x="361.67" y="358.22" width="16.67" height="3.99" fill="#a7e0e6"/>
<rect x="361.67" y="362.20" width="16.67" height="3.99" fill="#ceecda"/>
<rect x="361.67" y="366.19" width="16.67" height="3.99" fill="#f0a860"/>
<rect x="361.67" y="370.18" width="16.67" height="3.99" fill="#f2e8a8"/>
<rect x="361.67" y="374.17" width="16.67" height="3.99" fill="#ceecda"/>
<rect x="361.67" y="378.16" width="16.67" height="3.99" fill="#a7e0e6"/>
<rect x="361.67" y="382.15" width="16.67" height="3.99" fill="#ceecda"/>
<rect x="361.67" y="386.14" width="16.67" height="3.99" fill="#f2e8a8"/>
<rect x="361.67" y="390.12" width="16.67" height="11.97" fill="#f0a860"/>
<rect x="361.67" y="402.09" width="16.67" height="3.99" fill="#f4c87a"/>
<rect x="361.67" y="406.08" width="16.67" height="7.98" fill="#e27f40"/>
<rect x="361.67" y="414.06" width="16.67" height="3.99" fill="#f0a860"/>
<rect x="361.67" y="418.05" width="16.67" height="3.99" fill="#e27f40"/>
<rect x="361.67" y="422.03" width="16.67" height="3.99" fill="#f0a860"/>
<rect x="361.67" y="426.02" width="16.67" height="3.99" fill="#9a1c26"/>
<rect x="361.67" y="430.01" width="16.67" height="3.99" fill="#bf3a29"/>
<rect x="378.33" y="384" width="16.67" height="2" fill="#f0a860"/>
<rect x="378.33" y="386" width="16.67" height="3" fill="#a7e0e6"/>
<rect x="378.33" y="389" width="16.67" height="2" fill="#f2e8a8"/>
<rect x="378.33" y="391" width="16.67" height="4" fill="#e27f40"/>
<rect x="378.33" y="395" width="16.67" height="4" fill="#f0a860"/>
<rect x="378.33" y="399" width="16.67" height="3" fill="#f4c87a"/>
<rect x="378.33" y="402" width="16.67" height="3" fill="#f0a860"/>
<rect x="378.33" y="405" width="16.67" height="1" fill="#e27f40"/>
<rect x="378.33" y="406" width="16.67" height="3" fill="#f0a860"/>
<rect x="378.33" y="409" width="16.67" height="3" fill="#ceecda"/>
<rect x="378.33" y="412" width="16.67" height="2" fill="#f4c87a"/>
<rect x="378.33" y="414" width="16.67" height="3" fill="#e27f40"/>
<rect x="378.33" y="417" width="16.67" height="4" fill="#f0a860"/>
<rect x="378.33" y="421" width="16.67" height="2" fill="#f2e8a8"/>
<rect x="378.33" y="423" width="16.67" height="3" fill="#e27f40"/>
<rect x="378.33" y="426" width="16.67" height="3" fill="#f4c87a"/>
<rect x="378.33" y="429" width="16.67" height="2" fill="#f0a860"/>
<rect x="378.33" y="431" width="16.67" height="3" fill="#e27f40"/>
<rect x="128.33" y="378" width="16.67" height="2.20" fill="#ffffff" shape-rendering="auto"/>
<rect x="128.33" y="382" width="16.67" height="1.20" fill="#ffffff" shape-rendering="auto"/>
<rect x="128.33" y="395" width="16.67" height="2.20" fill="#ffffff" shape-rendering="auto"/>
<rect x="178.33" y="402.8" width="16.67" height="4.20" fill="#ffffff" shape-rendering="auto"/>
<rect x="228.33" y="312.8" width="16.67" height="1.40" fill="#ffffff" shape-rendering="auto"/>
<rect x="178.33" y="187.8" width="16.67" height="1.40" fill="#ffffff" shape-rendering="auto"/>
<rect x="261.67" y="125.8" width="16.67" height="1.40" fill="#ffffff" shape-rendering="auto"/>
</svg>
<svg width="500" height="500" viewBox="0 0 500 500">
<defs><linearGradient id="cb" x1="0" y1="0" x2="0" y2="1"><stop offset="0.000" stop-color="#9a1c26"/><stop offset="0.095" stop-color="#b83228"/><stop offset="0.172" stop-color="#cc4a2a"/><stop offset="0.248" stop-color="#e48442"/><stop offset="0.345" stop-color="#f0a860"/><stop offset="0.419" stop-color="#f5cf80"/><stop offset="0.462" stop-color="#f4e6a0"/><stop offset="0.497" stop-color="#e8f0c8"/><stop offset="0.517" stop-color="#e0f0d4"/><stop offset="0.569" stop-color="#b4e6e2"/><stop offset="0.621" stop-color="#8cd4ee"/><stop offset="0.690" stop-color="#5ab4ee"/><stop offset="0.747" stop-color="#4a9ae0"/><stop offset="0.847" stop-color="#3460c0"/><stop offset="0.931" stop-color="#263a9a"/><stop offset="1.000" stop-color="#1c1c78"/></linearGradient></defs>
<text x="220.2" y="24.8" text-anchor="middle" class="ttl" textLength="303" lengthAdjust="spacingAndGlyphs">RDB Sacramento R at Red Bluff Diversion Dam</text>
<text x="220" y="44" text-anchor="middle" class="ttl" textLength="332" lengthAdjust="spacingAndGlyphs">WY 2006-2026 Daily Average Air Temperature Max</text>
<text x="220.1" y="62.6" text-anchor="middle" class="ttl" textLength="227.5" lengthAdjust="spacingAndGlyphs">Observed Range 40.000 : 108.000 F</text>
<rect x="44.5" y="83.5" width="351" height="351" fill="none" stroke="#000" stroke-width="1.2"/>
<rect x="404" y="83" width="17" height="351" fill="url(#cb)"/>
<rect x="403.5" y="83.5" width="18" height="351" fill="none" stroke="#000" stroke-width="1.2"/>
<line x1="421" y1="83.5" x2="427" y2="83.5" stroke="#000" stroke-width="1"/>
<line x1="421" y1="434.5" x2="427" y2="434.5" stroke="#000" stroke-width="1"/>
<text x="437.9" y="87.2" class="cb" textLength="48.5" lengthAdjust="spacingAndGlyphs">&gt; 90.000</text>
<text x="437.9" y="439.6" class="cb" textLength="48.5" lengthAdjust="spacingAndGlyphs">&lt; 32.000</text>
<line x1="38" y1="434.5" x2="44" y2="434.5" stroke="#000" stroke-width="1"/><text transform="translate(31.80 438.30) scale(1.13 1)" text-anchor="end" class="tk">Oct</text><line x1="38" y1="404.5" x2="44" y2="404.5" stroke="#000" stroke-width="1"/><text transform="translate(31.80 408.40) scale(1.13 1)" text-anchor="end" class="tk">Nov</text><line x1="45" y1="404.5" x2="395" y2="404.5" stroke="#000" stroke-width="1" stroke-dasharray="1 3.4" opacity="0.35"/><line x1="38" y1="377.5" x2="44" y2="377.5" stroke="#000" stroke-width="1"/><text transform="translate(31.80 381.40) scale(1.13 1)" text-anchor="end" class="tk">Dec</text><line x1="45" y1="377.5" x2="395" y2="377.5" stroke="#000" stroke-width="1" stroke-dasharray="1 3.4" opacity="0.35"/><line x1="38" y1="347.5" x2="44" y2="347.5" stroke="#000" stroke-width="1"/><text transform="translate(31.80 351.20) scale(1.13 1)" text-anchor="end" class="tk">Jan</text><line x1="45" y1="347.5" x2="395" y2="347.5" stroke="#000" stroke-width="1" stroke-dasharray="1 3.4" opacity="0.35"/><line x1="38" y1="318.5" x2="44" y2="318.5" stroke="#000" stroke-width="1"/><text transform="translate(31.80 322.10) scale(1.13 1)" text-anchor="end" class="tk">Feb</text><line x1="45" y1="318.5" x2="395" y2="318.5" stroke="#000" stroke-width="1" stroke-dasharray="1 3.4" opacity="0.35"/><line x1="38" y1="288.5" x2="44" y2="288.5" stroke="#000" stroke-width="1"/><text transform="translate(31.80 292.40) scale(1.13 1)" text-anchor="end" class="tk">Mar</text><line x1="45" y1="288.5" x2="395" y2="288.5" stroke="#000" stroke-width="1" stroke-dasharray="1 3.4" opacity="0.35"/><line x1="38" y1="259.5" x2="44" y2="259.5" stroke="#000" stroke-width="1"/><text transform="translate(31.80 263.40) scale(1.13 1)" text-anchor="end" class="tk">Apr</text><line x1="45" y1="259.5" x2="395" y2="259.5" stroke="#000" stroke-width="1" stroke-dasharray="1 3.4" opacity="0.35"/><line x1="38" y1="230.5" x2="44" y2="230.5" stroke="#000" stroke-width="1"/><text transform="translate(31.80 234.30) scale(1.13 1)" text-anchor="end" class="tk">May</text><line x1="45" y1="230.5" x2="395" y2="230.5" stroke="#000" stroke-width="1" stroke-dasharray="1 3.4" opacity="0.35"/><line x1="38" y1="200.5" x2="44" y2="200.5" stroke="#000" stroke-width="1"/><text transform="translate(31.80 204.20) scale(1.13 1)" text-anchor="end" class="tk">Jun</text><line x1="45" y1="200.5" x2="395" y2="200.5" stroke="#000" stroke-width="1" stroke-dasharray="1 3.4" opacity="0.35"/><line x1="38" y1="171.5" x2="44" y2="171.5" stroke="#000" stroke-width="1"/><text transform="translate(31.80 175.40) scale(1.13 1)" text-anchor="end" class="tk">Jul</text><line x1="45" y1="171.5" x2="395" y2="171.5" stroke="#000" stroke-width="1" stroke-dasharray="1 3.4" opacity="0.35"/><line x1="38" y1="141.5" x2="44" y2="141.5" stroke="#000" stroke-width="1"/><text transform="translate(31.80 145.10) scale(1.13 1)" text-anchor="end" class="tk">Aug</text><line x1="45" y1="141.5" x2="395" y2="141.5" stroke="#000" stroke-width="1" stroke-dasharray="1 3.4" opacity="0.35"/><line x1="38" y1="112.5" x2="44" y2="112.5" stroke="#000" stroke-width="1"/><text transform="translate(31.80 116.40) scale(1.13 1)" text-anchor="end" class="tk">Sep</text><line x1="45" y1="112.5" x2="395" y2="112.5" stroke="#000" stroke-width="1" stroke-dasharray="1 3.4" opacity="0.35"/><line x1="53.5" y1="434" x2="53.5" y2="440" stroke="#000" stroke-width="1"/><text transform="translate(56.93 446.60) rotate(-90) scale(1.1 1)" text-anchor="end" class="yr" letter-spacing="0.75">2006</text><line x1="70.5" y1="434" x2="70.5" y2="440" stroke="#000" stroke-width="1"/><text transform="translate(73.60 446.60) rotate(-90) scale(1.1 1)" text-anchor="end" class="yr" letter-spacing="0.75">2007</text><line x1="86.5" y1="434" x2="86.5" y2="440" stroke="#000" stroke-width="1"/><text transform="translate(90.27 446.60) rotate(-90) scale(1.1 1)" text-anchor="end" class="yr" letter-spacing="0.75">2008</text><line x1="103.5" y1="434" x2="103.5" y2="440" stroke="#000" stroke-width="1"/><text transform="translate(106.93 446.60) rotate(-90) scale(1.1 1)" text-anchor="end" class="yr" letter-spacing="0.75">2009</text><line x1="120.5" y1="434" x2="120.5" y2="440" stroke="#000" stroke-width="1"/><text transform="translate(123.60 446.60) rotate(-90) scale(1.1 1)" text-anchor="end" class="yr" letter-spacing="0.75">2010</text><line x1="136.5" y1="434" x2="136.5" y2="440" stroke="#000" stroke-width="1"/><text transform="translate(140.27 446.60) rotate(-90) scale(1.1 1)" text-anchor="end" class="yr" letter-spacing="0.75">2011</text><line x1="153.5" y1="434" x2="153.5" y2="440" stroke="#000" stroke-width="1"/><text transform="translate(156.93 446.60) rotate(-90) scale(1.1 1)" text-anchor="end" class="yr" letter-spacing="0.75">2012</text><line x1="170.5" y1="434" x2="170.5" y2="440" stroke="#000" stroke-width="1"/><text transform="translate(173.60 446.60) rotate(-90) scale(1.1 1)" text-anchor="end" class="yr" letter-spacing="0.75">2013</text><line x1="186.5" y1="434" x2="186.5" y2="440" stroke="#000" stroke-width="1"/><text transform="translate(190.27 446.60) rotate(-90) scale(1.1 1)" text-anchor="end" class="yr" letter-spacing="0.75">2014</text><line x1="203.5" y1="434" x2="203.5" y2="440" stroke="#000" stroke-width="1"/><text transform="translate(206.93 446.60) rotate(-90) scale(1.1 1)" text-anchor="end" class="yr" letter-spacing="0.75">2015</text><line x1="220.5" y1="434" x2="220.5" y2="440" stroke="#000" stroke-width="1"/><text transform="translate(223.60 446.60) rotate(-90) scale(1.1 1)" text-anchor="end" class="yr" letter-spacing="0.75">2016</text><line x1="236.5" y1="434" x2="236.5" y2="440" stroke="#000" stroke-width="1"/><text transform="translate(240.27 446.60) rotate(-90) scale(1.1 1)" text-anchor="end" class="yr" letter-spacing="0.75">2017</text><line x1="253.5" y1="434" x2="253.5" y2="440" stroke="#000" stroke-width="1"/><text transform="translate(256.93 446.60) rotate(-90) scale(1.1 1)" text-anchor="end" class="yr" letter-spacing="0.75">2018</text><line x1="270.5" y1="434" x2="270.5" y2="440" stroke="#000" stroke-width="1"/><text transform="translate(273.60 446.60) rotate(-90) scale(1.1 1)" text-anchor="end" class="yr" letter-spacing="0.75">2019</text><line x1="286.5" y1="434" x2="286.5" y2="440" stroke="#000" stroke-width="1"/><text transform="translate(290.27 446.60) rotate(-90) scale(1.1 1)" text-anchor="end" class="yr" letter-spacing="0.75">2020</text><line x1="303.5" y1="434" x2="303.5" y2="440" stroke="#000" stroke-width="1"/><text transform="translate(306.93 446.60) rotate(-90) scale(1.1 1)" text-anchor="end" class="yr" letter-spacing="0.75">2021</text><line x1="320.5" y1="434" x2="320.5" y2="440" stroke="#000" stroke-width="1"/><text transform="translate(323.60 446.60) rotate(-90) scale(1.1 1)" text-anchor="end" class="yr" letter-spacing="0.75">2022</text><line x1="336.5" y1="434" x2="336.5" y2="440" stroke="#000" stroke-width="1"/><text transform="translate(340.27 446.60) rotate(-90) scale(1.1 1)" text-anchor="end" class="yr" letter-spacing="0.75">2023</text><line x1="353.5" y1="434" x2="353.5" y2="440" stroke="#000" stroke-width="1"/><text transform="translate(356.93 446.60) rotate(-90) scale(1.1 1)" text-anchor="end" class="yr" letter-spacing="0.75">2024</text><line x1="370.5" y1="434" x2="370.5" y2="440" stroke="#000" stroke-width="1"/><text transform="translate(373.60 446.60) rotate(-90) scale(1.1 1)" text-anchor="end" class="yr" letter-spacing="0.75">2025</text><line x1="386.5" y1="434" x2="386.5" y2="440" stroke="#000" stroke-width="1"/><text transform="translate(390.27 446.60) rotate(-90) scale(1.1 1)" text-anchor="end" class="yr" letter-spacing="0.75">2026</text><line x1="421" y1="385.5" x2="427" y2="385.5" stroke="#000" stroke-width="1"/><text transform="translate(437.50 389.89) scale(1.1 1)" text-anchor="start" class="cb">40</text><line x1="421" y1="325.5" x2="427" y2="325.5" stroke="#000" stroke-width="1"/><text transform="translate(437.50 329.37) scale(1.1 1)" text-anchor="start" class="cb">50</text><line x1="421" y1="264.5" x2="427" y2="264.5" stroke="#000" stroke-width="1"/><text transform="translate(437.50 268.85) scale(1.1 1)" text-anchor="start" class="cb">60</text><line x1="421" y1="204.5" x2="427" y2="204.5" stroke="#000" stroke-width="1"/><text transform="translate(437.50 208.33) scale(1.1 1)" text-anchor="start" class="cb">70</text><line x1="421" y1="143.5" x2="427" y2="143.5" stroke="#000" stroke-width="1"/><text transform="translate(437.50 147.82) scale(1.1 1)" text-anchor="start" class="cb">80</text>
<text transform="translate(5.50 488.80) scale(1.12 1)" text-anchor="start" class="ft">www.cbr.washington.edu/sacramento/</text>
<text transform="translate(494.00 488.80) scale(1.1 1)" text-anchor="end" class="ft">23 Nov 2025 15:46:57 PST</text>
</svg>
</body></html>
